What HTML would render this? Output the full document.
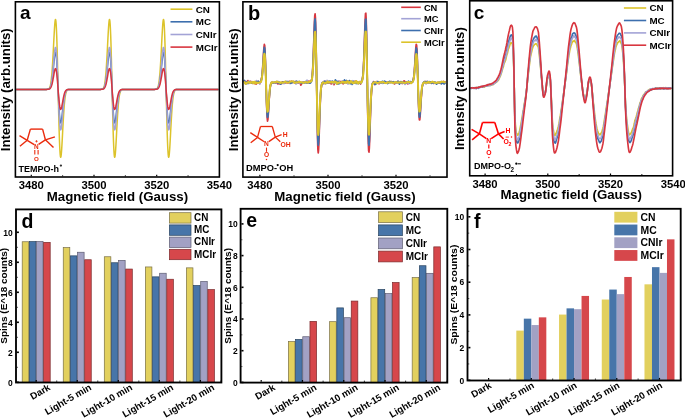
<!DOCTYPE html>
<html><head><meta charset="utf-8"><style>
html,body{margin:0;padding:0;background:#fff;}
svg{display:block;font-family:"Liberation Sans", sans-serif;will-change:transform;}
</style></head><body>
<svg width="685" height="418" viewBox="0 0 685 418">
<rect width="685" height="418" fill="#fff"/>
<path d="M16.2 89.4 L16.45 89.4 L16.7 89.4 L16.95 89.4 L17.2 89.4 L17.45 89.4 L17.7 89.4 L17.95 89.4 L18.2 89.4 L18.45 89.4 L18.7 89.4 L18.95 89.4 L19.2 89.4 L19.45 89.4 L19.7 89.4 L19.95 89.4 L20.2 89.4 L20.45 89.4 L20.7 89.4 L20.95 89.4 L21.2 89.4 L21.45 89.4 L21.7 89.4 L21.95 89.4 L22.2 89.4 L22.45 89.4 L22.7 89.4 L22.95 89.4 L23.2 89.4 L23.45 89.4 L23.7 89.4 L23.95 89.4 L24.2 89.4 L24.45 89.4 L24.7 89.4 L24.95 89.4 L25.2 89.4 L25.45 89.4 L25.7 89.4 L25.95 89.4 L26.2 89.4 L26.45 89.4 L26.7 89.4 L26.95 89.4 L27.2 89.4 L27.45 89.4 L27.7 89.4 L27.95 89.4 L28.2 89.4 L28.45 89.4 L28.7 89.4 L28.95 89.4 L29.2 89.4 L29.45 89.4 L29.7 89.4 L29.95 89.4 L30.2 89.4 L30.45 89.4 L30.7 89.4 L30.95 89.4 L31.2 89.4 L31.45 89.4 L31.7 89.4 L31.95 89.4 L32.2 89.4 L32.45 89.4 L32.7 89.4 L32.95 89.4 L33.2 89.4 L33.45 89.4 L33.7 89.4 L33.95 89.4 L34.2 89.4 L34.45 89.4 L34.7 89.4 L34.95 89.4 L35.2 89.4 L35.45 89.4 L35.7 89.4 L35.95 89.4 L36.2 89.4 L36.45 89.4 L36.7 89.4 L36.95 89.4 L37.2 89.4 L37.45 89.4 L37.7 89.4 L37.95 89.4 L38.2 89.4 L38.45 89.4 L38.7 89.4 L38.95 89.4 L39.2 89.4 L39.45 89.4 L39.7 89.4 L39.95 89.4 L40.2 89.4 L40.45 89.4 L40.7 89.4 L40.95 89.4 L41.2 89.4 L41.45 89.4 L41.7 89.4 L41.95 89.4 L42.2 89.4 L42.45 89.4 L42.7 89.4 L42.95 89.4 L43.2 89.4 L43.45 89.4 L43.7 89.4 L43.95 89.4 L44.2 89.4 L44.45 89.4 L44.7 89.4 L44.95 89.4 L45.2 89.4 L45.45 89.4 L45.7 89.39 L45.95 89.39 L46.2 89.39 L46.45 89.38 L46.7 89.37 L46.95 89.35 L47.2 89.33 L47.45 89.29 L47.7 89.25 L47.95 89.18 L48.2 89.09 L48.45 88.96 L48.7 88.79 L48.95 88.57 L49.2 88.27 L49.45 87.88 L49.7 87.38 L49.95 86.74 L50.2 85.93 L50.45 84.92 L50.7 83.68 L50.95 82.17 L51.2 80.35 L51.45 78.19 L51.7 75.67 L51.95 72.76 L52.2 69.45 L52.45 65.75 L52.7 61.67 L52.95 57.25 L53.2 52.57 L53.45 47.7 L53.7 42.75 L53.95 37.87 L54.2 33.2 L54.45 28.92 L54.7 25.22 L54.95 22.28 L55.2 20.29 L55.45 19.43 L55.7 19.82 L55.95 21.6 L56.2 24.83 L56.45 29.52 L56.7 35.64 L56.95 43.11 L57.2 51.77 L57.45 61.44 L57.7 71.85 L57.95 82.75 L58.2 93.7 L58.45 104.33 L58.7 114.56 L58.95 124.09 L59.2 132.71 L59.45 140.2 L59.7 146.41 L59.95 151.24 L60.2 154.65 L60.45 156.65 L60.7 157.3 L60.95 156.69 L61.2 154.97 L61.45 152.29 L61.7 148.83 L61.95 144.78 L62.2 140.32 L62.45 135.61 L62.7 130.81 L62.95 126.06 L63.2 121.47 L63.45 117.13 L63.7 113.11 L63.95 109.44 L64.2 106.15 L64.45 103.25 L64.7 100.73 L64.95 98.57 L65.2 96.75 L65.45 95.22 L65.7 93.97 L65.95 92.94 L66.2 92.12 L66.45 91.47 L66.7 90.96 L66.95 90.56 L67.2 90.26 L67.45 90.03 L67.7 89.85 L67.95 89.72 L68.2 89.63 L68.45 89.56 L68.7 89.51 L68.95 89.48 L69.2 89.45 L69.45 89.44 L69.7 89.42 L69.95 89.42 L70.2 89.41 L70.45 89.41 L70.7 89.4 L70.95 89.4 L71.2 89.4 L71.45 89.4 L71.7 89.4 L71.95 89.4 L72.2 89.4 L72.45 89.4 L72.7 89.4 L72.95 89.4 L73.2 89.4 L73.45 89.4 L73.7 89.4 L73.95 89.4 L74.2 89.4 L74.45 89.4 L74.7 89.4 L74.95 89.4 L75.2 89.4 L75.45 89.4 L75.7 89.4 L75.95 89.4 L76.2 89.4 L76.45 89.4 L76.7 89.4 L76.95 89.4 L77.2 89.4 L77.45 89.4 L77.7 89.4 L77.95 89.4 L78.2 89.4 L78.45 89.4 L78.7 89.4 L78.95 89.4 L79.2 89.4 L79.45 89.4 L79.7 89.4 L79.95 89.4 L80.2 89.4 L80.45 89.4 L80.7 89.4 L80.95 89.4 L81.2 89.4 L81.45 89.4 L81.7 89.4 L81.95 89.4 L82.2 89.4 L82.45 89.4 L82.7 89.4 L82.95 89.4 L83.2 89.4 L83.45 89.4 L83.7 89.4 L83.95 89.4 L84.2 89.4 L84.45 89.4 L84.7 89.4 L84.95 89.4 L85.2 89.4 L85.45 89.4 L85.7 89.4 L85.95 89.4 L86.2 89.4 L86.45 89.4 L86.7 89.4 L86.95 89.4 L87.2 89.4 L87.45 89.4 L87.7 89.4 L87.95 89.4 L88.2 89.4 L88.45 89.4 L88.7 89.4 L88.95 89.4 L89.2 89.4 L89.45 89.4 L89.7 89.4 L89.95 89.4 L90.2 89.4 L90.45 89.4 L90.7 89.4 L90.95 89.4 L91.2 89.4 L91.45 89.4 L91.7 89.4 L91.95 89.4 L92.2 89.4 L92.45 89.4 L92.7 89.4 L92.95 89.4 L93.2 89.4 L93.45 89.4 L93.7 89.4 L93.95 89.4 L94.2 89.4 L94.45 89.4 L94.7 89.4 L94.95 89.4 L95.2 89.4 L95.45 89.4 L95.7 89.4 L95.95 89.4 L96.2 89.4 L96.45 89.4 L96.7 89.4 L96.95 89.4 L97.2 89.4 L97.45 89.4 L97.7 89.4 L97.95 89.4 L98.2 89.4 L98.45 89.4 L98.7 89.4 L98.95 89.4 L99.2 89.4 L99.45 89.4 L99.7 89.39 L99.95 89.39 L100.2 89.39 L100.45 89.38 L100.7 89.37 L100.95 89.35 L101.2 89.33 L101.45 89.29 L101.7 89.25 L101.95 89.18 L102.2 89.09 L102.45 88.96 L102.7 88.79 L102.95 88.57 L103.2 88.27 L103.45 87.88 L103.7 87.38 L103.95 86.74 L104.2 85.93 L104.45 84.92 L104.7 83.68 L104.95 82.17 L105.2 80.35 L105.45 78.19 L105.7 75.67 L105.95 72.76 L106.2 69.45 L106.45 65.75 L106.7 61.67 L106.95 57.25 L107.2 52.57 L107.45 47.7 L107.7 42.75 L107.95 37.87 L108.2 33.2 L108.45 28.92 L108.7 25.22 L108.95 22.28 L109.2 20.29 L109.45 19.43 L109.7 19.82 L109.95 21.6 L110.2 24.83 L110.45 29.52 L110.7 35.64 L110.95 43.11 L111.2 51.77 L111.45 61.44 L111.7 71.85 L111.95 82.75 L112.2 93.7 L112.45 104.33 L112.7 114.56 L112.95 124.09 L113.2 132.71 L113.45 140.2 L113.7 146.41 L113.95 151.24 L114.2 154.65 L114.45 156.65 L114.7 157.3 L114.95 156.69 L115.2 154.97 L115.45 152.29 L115.7 148.83 L115.95 144.78 L116.2 140.32 L116.45 135.61 L116.7 130.81 L116.95 126.06 L117.2 121.47 L117.45 117.13 L117.7 113.11 L117.95 109.44 L118.2 106.15 L118.45 103.25 L118.7 100.73 L118.95 98.57 L119.2 96.75 L119.45 95.22 L119.7 93.97 L119.95 92.94 L120.2 92.12 L120.45 91.47 L120.7 90.96 L120.95 90.56 L121.2 90.26 L121.45 90.03 L121.7 89.85 L121.95 89.72 L122.2 89.63 L122.45 89.56 L122.7 89.51 L122.95 89.48 L123.2 89.45 L123.45 89.44 L123.7 89.42 L123.95 89.42 L124.2 89.41 L124.45 89.41 L124.7 89.4 L124.95 89.4 L125.2 89.4 L125.45 89.4 L125.7 89.4 L125.95 89.4 L126.2 89.4 L126.45 89.4 L126.7 89.4 L126.95 89.4 L127.2 89.4 L127.45 89.4 L127.7 89.4 L127.95 89.4 L128.2 89.4 L128.45 89.4 L128.7 89.4 L128.95 89.4 L129.2 89.4 L129.45 89.4 L129.7 89.4 L129.95 89.4 L130.2 89.4 L130.45 89.4 L130.7 89.4 L130.95 89.4 L131.2 89.4 L131.45 89.4 L131.7 89.4 L131.95 89.4 L132.2 89.4 L132.45 89.4 L132.7 89.4 L132.95 89.4 L133.2 89.4 L133.45 89.4 L133.7 89.4 L133.95 89.4 L134.2 89.4 L134.45 89.4 L134.7 89.4 L134.95 89.4 L135.2 89.4 L135.45 89.4 L135.7 89.4 L135.95 89.4 L136.2 89.4 L136.45 89.4 L136.7 89.4 L136.95 89.4 L137.2 89.4 L137.45 89.4 L137.7 89.4 L137.95 89.4 L138.2 89.4 L138.45 89.4 L138.7 89.4 L138.95 89.4 L139.2 89.4 L139.45 89.4 L139.7 89.4 L139.95 89.4 L140.2 89.4 L140.45 89.4 L140.7 89.4 L140.95 89.4 L141.2 89.4 L141.45 89.4 L141.7 89.4 L141.95 89.4 L142.2 89.4 L142.45 89.4 L142.7 89.4 L142.95 89.4 L143.2 89.4 L143.45 89.4 L143.7 89.4 L143.95 89.4 L144.2 89.4 L144.45 89.4 L144.7 89.4 L144.95 89.4 L145.2 89.4 L145.45 89.4 L145.7 89.4 L145.95 89.4 L146.2 89.4 L146.45 89.4 L146.7 89.4 L146.95 89.4 L147.2 89.4 L147.45 89.4 L147.7 89.4 L147.95 89.4 L148.2 89.4 L148.45 89.4 L148.7 89.4 L148.95 89.4 L149.2 89.4 L149.45 89.4 L149.7 89.4 L149.95 89.4 L150.2 89.4 L150.45 89.4 L150.7 89.4 L150.95 89.4 L151.2 89.4 L151.45 89.4 L151.7 89.4 L151.95 89.4 L152.2 89.4 L152.45 89.4 L152.7 89.4 L152.95 89.4 L153.2 89.4 L153.45 89.4 L153.7 89.39 L153.95 89.39 L154.2 89.39 L154.45 89.38 L154.7 89.37 L154.95 89.35 L155.2 89.33 L155.45 89.29 L155.7 89.25 L155.95 89.18 L156.2 89.09 L156.45 88.96 L156.7 88.79 L156.95 88.57 L157.2 88.27 L157.45 87.88 L157.7 87.38 L157.95 86.74 L158.2 85.93 L158.45 84.92 L158.7 83.68 L158.95 82.17 L159.2 80.35 L159.45 78.19 L159.7 75.67 L159.95 72.76 L160.2 69.45 L160.45 65.75 L160.7 61.67 L160.95 57.25 L161.2 52.57 L161.45 47.7 L161.7 42.75 L161.95 37.87 L162.2 33.2 L162.45 28.92 L162.7 25.22 L162.95 22.28 L163.2 20.29 L163.45 19.43 L163.7 19.82 L163.95 21.6 L164.2 24.83 L164.45 29.52 L164.7 35.64 L164.95 43.11 L165.2 51.77 L165.45 61.44 L165.7 71.85 L165.95 82.75 L166.2 93.7 L166.45 104.33 L166.7 114.56 L166.95 124.09 L167.2 132.71 L167.45 140.2 L167.7 146.41 L167.95 151.24 L168.2 154.65 L168.45 156.65 L168.7 157.3 L168.95 156.69 L169.2 154.97 L169.45 152.29 L169.7 148.83 L169.95 144.78 L170.2 140.32 L170.45 135.61 L170.7 130.81 L170.95 126.06 L171.2 121.47 L171.45 117.13 L171.7 113.11 L171.95 109.44 L172.2 106.15 L172.45 103.25 L172.7 100.73 L172.95 98.57 L173.2 96.75 L173.45 95.22 L173.7 93.97 L173.95 92.94 L174.2 92.12 L174.45 91.47 L174.7 90.96 L174.95 90.56 L175.2 90.26 L175.45 90.03 L175.7 89.85 L175.95 89.72 L176.2 89.63 L176.45 89.56 L176.7 89.51 L176.95 89.48 L177.2 89.45 L177.45 89.44 L177.7 89.42 L177.95 89.42 L178.2 89.41 L178.45 89.41 L178.7 89.4 L178.95 89.4 L179.2 89.4 L179.45 89.4 L179.7 89.4 L179.95 89.4 L180.2 89.4 L180.45 89.4 L180.7 89.4 L180.95 89.4 L181.2 89.4 L181.45 89.4 L181.7 89.4 L181.95 89.4 L182.2 89.4 L182.45 89.4 L182.7 89.4 L182.95 89.4 L183.2 89.4 L183.45 89.4 L183.7 89.4 L183.95 89.4 L184.2 89.4 L184.45 89.4 L184.7 89.4 L184.95 89.4 L185.2 89.4 L185.45 89.4 L185.7 89.4 L185.95 89.4 L186.2 89.4 L186.45 89.4 L186.7 89.4 L186.95 89.4 L187.2 89.4 L187.45 89.4 L187.7 89.4 L187.95 89.4 L188.2 89.4 L188.45 89.4 L188.7 89.4 L188.95 89.4 L189.2 89.4 L189.45 89.4 L189.7 89.4 L189.95 89.4 L190.2 89.4 L190.45 89.4 L190.7 89.4 L190.95 89.4 L191.2 89.4 L191.45 89.4 L191.7 89.4 L191.95 89.4 L192.2 89.4 L192.45 89.4 L192.7 89.4 L192.95 89.4 L193.2 89.4 L193.45 89.4 L193.7 89.4 L193.95 89.4 L194.2 89.4 L194.45 89.4 L194.7 89.4 L194.95 89.4 L195.2 89.4 L195.45 89.4 L195.7 89.4 L195.95 89.4 L196.2 89.4 L196.45 89.4 L196.7 89.4 L196.95 89.4 L197.2 89.4 L197.45 89.4 L197.7 89.4 L197.95 89.4 L198.2 89.4 L198.45 89.4 L198.7 89.4 L198.95 89.4 L199.2 89.4 L199.45 89.4 L199.7 89.4 L199.95 89.4 L200.2 89.4 L200.45 89.4 L200.7 89.4 L200.95 89.4 L201.2 89.4 L201.45 89.4 L201.7 89.4 L201.95 89.4 L202.2 89.4 L202.45 89.4 L202.7 89.4 L202.95 89.4 L203.2 89.4 L203.45 89.4 L203.7 89.4 L203.95 89.4 L204.2 89.4 L204.45 89.4 L204.7 89.4 L204.95 89.4 L205.2 89.4 L205.45 89.4 L205.7 89.4 L205.95 89.4 L206.2 89.4 L206.45 89.4 L206.7 89.4 L206.95 89.4 L207.2 89.4 L207.45 89.4 L207.7 89.4 L207.95 89.4 L208.2 89.4 L208.45 89.4 L208.7 89.4 L208.95 89.4 L209.2 89.4 L209.45 89.4 L209.7 89.4 L209.95 89.4 L210.2 89.4 L210.45 89.4 L210.7 89.4 L210.95 89.4 L211.2 89.4 L211.45 89.4 L211.7 89.4 L211.95 89.4 L212.2 89.4 L212.45 89.4 L212.7 89.4 L212.95 89.4 L213.2 89.4 L213.45 89.4 L213.7 89.4 L213.95 89.4 L214.2 89.4 L214.45 89.4 L214.7 89.4 L214.95 89.4 L215.2 89.4 L215.45 89.4 L215.7 89.4 L215.95 89.4 L216.2 89.4 L216.45 89.4 L216.7 89.4 L216.95 89.4 L217.2 89.4 L217.45 89.4 L217.7 89.4 L217.95 89.4 L218.2 89.4 L218.45 89.4" fill="none" stroke="#dcc32a" stroke-width="1.5" stroke-linejoin="round"/>
<path d="M16.2 89.4 L16.45 89.4 L16.7 89.4 L16.95 89.4 L17.2 89.4 L17.45 89.4 L17.7 89.4 L17.95 89.4 L18.2 89.4 L18.45 89.4 L18.7 89.4 L18.95 89.4 L19.2 89.4 L19.45 89.4 L19.7 89.4 L19.95 89.4 L20.2 89.4 L20.45 89.4 L20.7 89.4 L20.95 89.4 L21.2 89.4 L21.45 89.4 L21.7 89.4 L21.95 89.4 L22.2 89.4 L22.45 89.4 L22.7 89.4 L22.95 89.4 L23.2 89.4 L23.45 89.4 L23.7 89.4 L23.95 89.4 L24.2 89.4 L24.45 89.4 L24.7 89.4 L24.95 89.4 L25.2 89.4 L25.45 89.4 L25.7 89.4 L25.95 89.4 L26.2 89.4 L26.45 89.4 L26.7 89.4 L26.95 89.4 L27.2 89.4 L27.45 89.4 L27.7 89.4 L27.95 89.4 L28.2 89.4 L28.45 89.4 L28.7 89.4 L28.95 89.4 L29.2 89.4 L29.45 89.4 L29.7 89.4 L29.95 89.4 L30.2 89.4 L30.45 89.4 L30.7 89.4 L30.95 89.4 L31.2 89.4 L31.45 89.4 L31.7 89.4 L31.95 89.4 L32.2 89.4 L32.45 89.4 L32.7 89.4 L32.95 89.4 L33.2 89.4 L33.45 89.4 L33.7 89.4 L33.95 89.4 L34.2 89.4 L34.45 89.4 L34.7 89.4 L34.95 89.4 L35.2 89.4 L35.45 89.4 L35.7 89.4 L35.95 89.4 L36.2 89.4 L36.45 89.4 L36.7 89.4 L36.95 89.4 L37.2 89.4 L37.45 89.4 L37.7 89.4 L37.95 89.4 L38.2 89.4 L38.45 89.4 L38.7 89.4 L38.95 89.4 L39.2 89.4 L39.45 89.4 L39.7 89.4 L39.95 89.4 L40.2 89.4 L40.45 89.4 L40.7 89.4 L40.95 89.4 L41.2 89.4 L41.45 89.4 L41.7 89.4 L41.95 89.4 L42.2 89.4 L42.45 89.4 L42.7 89.4 L42.95 89.4 L43.2 89.4 L43.45 89.4 L43.7 89.4 L43.95 89.4 L44.2 89.4 L44.45 89.4 L44.7 89.4 L44.95 89.4 L45.2 89.4 L45.45 89.4 L45.7 89.4 L45.95 89.39 L46.2 89.39 L46.45 89.39 L46.7 89.38 L46.95 89.37 L47.2 89.36 L47.45 89.34 L47.7 89.32 L47.95 89.28 L48.2 89.23 L48.45 89.17 L48.7 89.08 L48.95 88.96 L49.2 88.8 L49.45 88.6 L49.7 88.33 L49.95 87.99 L50.2 87.57 L50.45 87.03 L50.7 86.38 L50.95 85.58 L51.2 84.62 L51.45 83.48 L51.7 82.14 L51.95 80.6 L52.2 78.85 L52.45 76.9 L52.7 74.74 L52.95 72.41 L53.2 69.93 L53.45 67.36 L53.7 64.74 L53.95 62.16 L54.2 59.69 L54.45 57.43 L54.7 55.47 L54.95 53.92 L55.2 52.87 L55.45 52.41 L55.7 52.62 L55.95 53.56 L56.2 55.27 L56.45 57.75 L56.7 60.99 L56.95 64.93 L57.2 69.51 L57.45 74.62 L57.7 80.13 L57.95 85.89 L58.2 91.52 L58.45 96.77 L58.7 101.81 L58.95 106.52 L59.2 110.77 L59.45 114.46 L59.7 117.53 L59.95 119.91 L60.2 121.59 L60.45 122.58 L60.7 122.9 L60.95 122.6 L61.2 121.75 L61.45 120.43 L61.7 118.72 L61.95 116.72 L62.2 114.52 L62.45 112.2 L62.7 109.83 L62.95 107.49 L63.2 105.22 L63.45 103.08 L63.7 101.1 L63.95 99.29 L64.2 97.67 L64.45 96.23 L64.7 94.99 L64.95 93.93 L65.2 93.02 L65.45 92.27 L65.7 91.65 L65.95 91.15 L66.2 90.74 L66.45 90.42 L66.7 90.17 L66.95 89.97 L67.2 89.82 L67.45 89.71 L67.7 89.62 L67.95 89.56 L68.2 89.51 L68.45 89.48 L68.7 89.46 L68.95 89.44 L69.2 89.43 L69.45 89.42 L69.7 89.41 L69.95 89.41 L70.2 89.41 L70.45 89.4 L70.7 89.4 L70.95 89.4 L71.2 89.4 L71.45 89.4 L71.7 89.4 L71.95 89.4 L72.2 89.4 L72.45 89.4 L72.7 89.4 L72.95 89.4 L73.2 89.4 L73.45 89.4 L73.7 89.4 L73.95 89.4 L74.2 89.4 L74.45 89.4 L74.7 89.4 L74.95 89.4 L75.2 89.4 L75.45 89.4 L75.7 89.4 L75.95 89.4 L76.2 89.4 L76.45 89.4 L76.7 89.4 L76.95 89.4 L77.2 89.4 L77.45 89.4 L77.7 89.4 L77.95 89.4 L78.2 89.4 L78.45 89.4 L78.7 89.4 L78.95 89.4 L79.2 89.4 L79.45 89.4 L79.7 89.4 L79.95 89.4 L80.2 89.4 L80.45 89.4 L80.7 89.4 L80.95 89.4 L81.2 89.4 L81.45 89.4 L81.7 89.4 L81.95 89.4 L82.2 89.4 L82.45 89.4 L82.7 89.4 L82.95 89.4 L83.2 89.4 L83.45 89.4 L83.7 89.4 L83.95 89.4 L84.2 89.4 L84.45 89.4 L84.7 89.4 L84.95 89.4 L85.2 89.4 L85.45 89.4 L85.7 89.4 L85.95 89.4 L86.2 89.4 L86.45 89.4 L86.7 89.4 L86.95 89.4 L87.2 89.4 L87.45 89.4 L87.7 89.4 L87.95 89.4 L88.2 89.4 L88.45 89.4 L88.7 89.4 L88.95 89.4 L89.2 89.4 L89.45 89.4 L89.7 89.4 L89.95 89.4 L90.2 89.4 L90.45 89.4 L90.7 89.4 L90.95 89.4 L91.2 89.4 L91.45 89.4 L91.7 89.4 L91.95 89.4 L92.2 89.4 L92.45 89.4 L92.7 89.4 L92.95 89.4 L93.2 89.4 L93.45 89.4 L93.7 89.4 L93.95 89.4 L94.2 89.4 L94.45 89.4 L94.7 89.4 L94.95 89.4 L95.2 89.4 L95.45 89.4 L95.7 89.4 L95.95 89.4 L96.2 89.4 L96.45 89.4 L96.7 89.4 L96.95 89.4 L97.2 89.4 L97.45 89.4 L97.7 89.4 L97.95 89.4 L98.2 89.4 L98.45 89.4 L98.7 89.4 L98.95 89.4 L99.2 89.4 L99.45 89.4 L99.7 89.4 L99.95 89.39 L100.2 89.39 L100.45 89.39 L100.7 89.38 L100.95 89.37 L101.2 89.36 L101.45 89.34 L101.7 89.32 L101.95 89.28 L102.2 89.23 L102.45 89.17 L102.7 89.08 L102.95 88.96 L103.2 88.8 L103.45 88.6 L103.7 88.33 L103.95 87.99 L104.2 87.57 L104.45 87.03 L104.7 86.38 L104.95 85.58 L105.2 84.62 L105.45 83.48 L105.7 82.14 L105.95 80.6 L106.2 78.85 L106.45 76.9 L106.7 74.74 L106.95 72.41 L107.2 69.93 L107.45 67.36 L107.7 64.74 L107.95 62.16 L108.2 59.69 L108.45 57.43 L108.7 55.47 L108.95 53.92 L109.2 52.87 L109.45 52.41 L109.7 52.62 L109.95 53.56 L110.2 55.27 L110.45 57.75 L110.7 60.99 L110.95 64.93 L111.2 69.51 L111.45 74.62 L111.7 80.13 L111.95 85.89 L112.2 91.52 L112.45 96.77 L112.7 101.81 L112.95 106.52 L113.2 110.77 L113.45 114.46 L113.7 117.53 L113.95 119.91 L114.2 121.59 L114.45 122.58 L114.7 122.9 L114.95 122.6 L115.2 121.75 L115.45 120.43 L115.7 118.72 L115.95 116.72 L116.2 114.52 L116.45 112.2 L116.7 109.83 L116.95 107.49 L117.2 105.22 L117.45 103.08 L117.7 101.1 L117.95 99.29 L118.2 97.67 L118.45 96.23 L118.7 94.99 L118.95 93.93 L119.2 93.02 L119.45 92.27 L119.7 91.65 L119.95 91.15 L120.2 90.74 L120.45 90.42 L120.7 90.17 L120.95 89.97 L121.2 89.82 L121.45 89.71 L121.7 89.62 L121.95 89.56 L122.2 89.51 L122.45 89.48 L122.7 89.46 L122.95 89.44 L123.2 89.43 L123.45 89.42 L123.7 89.41 L123.95 89.41 L124.2 89.41 L124.45 89.4 L124.7 89.4 L124.95 89.4 L125.2 89.4 L125.45 89.4 L125.7 89.4 L125.95 89.4 L126.2 89.4 L126.45 89.4 L126.7 89.4 L126.95 89.4 L127.2 89.4 L127.45 89.4 L127.7 89.4 L127.95 89.4 L128.2 89.4 L128.45 89.4 L128.7 89.4 L128.95 89.4 L129.2 89.4 L129.45 89.4 L129.7 89.4 L129.95 89.4 L130.2 89.4 L130.45 89.4 L130.7 89.4 L130.95 89.4 L131.2 89.4 L131.45 89.4 L131.7 89.4 L131.95 89.4 L132.2 89.4 L132.45 89.4 L132.7 89.4 L132.95 89.4 L133.2 89.4 L133.45 89.4 L133.7 89.4 L133.95 89.4 L134.2 89.4 L134.45 89.4 L134.7 89.4 L134.95 89.4 L135.2 89.4 L135.45 89.4 L135.7 89.4 L135.95 89.4 L136.2 89.4 L136.45 89.4 L136.7 89.4 L136.95 89.4 L137.2 89.4 L137.45 89.4 L137.7 89.4 L137.95 89.4 L138.2 89.4 L138.45 89.4 L138.7 89.4 L138.95 89.4 L139.2 89.4 L139.45 89.4 L139.7 89.4 L139.95 89.4 L140.2 89.4 L140.45 89.4 L140.7 89.4 L140.95 89.4 L141.2 89.4 L141.45 89.4 L141.7 89.4 L141.95 89.4 L142.2 89.4 L142.45 89.4 L142.7 89.4 L142.95 89.4 L143.2 89.4 L143.45 89.4 L143.7 89.4 L143.95 89.4 L144.2 89.4 L144.45 89.4 L144.7 89.4 L144.95 89.4 L145.2 89.4 L145.45 89.4 L145.7 89.4 L145.95 89.4 L146.2 89.4 L146.45 89.4 L146.7 89.4 L146.95 89.4 L147.2 89.4 L147.45 89.4 L147.7 89.4 L147.95 89.4 L148.2 89.4 L148.45 89.4 L148.7 89.4 L148.95 89.4 L149.2 89.4 L149.45 89.4 L149.7 89.4 L149.95 89.4 L150.2 89.4 L150.45 89.4 L150.7 89.4 L150.95 89.4 L151.2 89.4 L151.45 89.4 L151.7 89.4 L151.95 89.4 L152.2 89.4 L152.45 89.4 L152.7 89.4 L152.95 89.4 L153.2 89.4 L153.45 89.4 L153.7 89.4 L153.95 89.39 L154.2 89.39 L154.45 89.39 L154.7 89.38 L154.95 89.37 L155.2 89.36 L155.45 89.34 L155.7 89.32 L155.95 89.28 L156.2 89.23 L156.45 89.17 L156.7 89.08 L156.95 88.96 L157.2 88.8 L157.45 88.6 L157.7 88.33 L157.95 87.99 L158.2 87.57 L158.45 87.03 L158.7 86.38 L158.95 85.58 L159.2 84.62 L159.45 83.48 L159.7 82.14 L159.95 80.6 L160.2 78.85 L160.45 76.9 L160.7 74.74 L160.95 72.41 L161.2 69.93 L161.45 67.36 L161.7 64.74 L161.95 62.16 L162.2 59.69 L162.45 57.43 L162.7 55.47 L162.95 53.92 L163.2 52.87 L163.45 52.41 L163.7 52.62 L163.95 53.56 L164.2 55.27 L164.45 57.75 L164.7 60.99 L164.95 64.93 L165.2 69.51 L165.45 74.62 L165.7 80.13 L165.95 85.89 L166.2 91.52 L166.45 96.77 L166.7 101.81 L166.95 106.52 L167.2 110.77 L167.45 114.46 L167.7 117.53 L167.95 119.91 L168.2 121.59 L168.45 122.58 L168.7 122.9 L168.95 122.6 L169.2 121.75 L169.45 120.43 L169.7 118.72 L169.95 116.72 L170.2 114.52 L170.45 112.2 L170.7 109.83 L170.95 107.49 L171.2 105.22 L171.45 103.08 L171.7 101.1 L171.95 99.29 L172.2 97.67 L172.45 96.23 L172.7 94.99 L172.95 93.93 L173.2 93.02 L173.45 92.27 L173.7 91.65 L173.95 91.15 L174.2 90.74 L174.45 90.42 L174.7 90.17 L174.95 89.97 L175.2 89.82 L175.45 89.71 L175.7 89.62 L175.95 89.56 L176.2 89.51 L176.45 89.48 L176.7 89.46 L176.95 89.44 L177.2 89.43 L177.45 89.42 L177.7 89.41 L177.95 89.41 L178.2 89.41 L178.45 89.4 L178.7 89.4 L178.95 89.4 L179.2 89.4 L179.45 89.4 L179.7 89.4 L179.95 89.4 L180.2 89.4 L180.45 89.4 L180.7 89.4 L180.95 89.4 L181.2 89.4 L181.45 89.4 L181.7 89.4 L181.95 89.4 L182.2 89.4 L182.45 89.4 L182.7 89.4 L182.95 89.4 L183.2 89.4 L183.45 89.4 L183.7 89.4 L183.95 89.4 L184.2 89.4 L184.45 89.4 L184.7 89.4 L184.95 89.4 L185.2 89.4 L185.45 89.4 L185.7 89.4 L185.95 89.4 L186.2 89.4 L186.45 89.4 L186.7 89.4 L186.95 89.4 L187.2 89.4 L187.45 89.4 L187.7 89.4 L187.95 89.4 L188.2 89.4 L188.45 89.4 L188.7 89.4 L188.95 89.4 L189.2 89.4 L189.45 89.4 L189.7 89.4 L189.95 89.4 L190.2 89.4 L190.45 89.4 L190.7 89.4 L190.95 89.4 L191.2 89.4 L191.45 89.4 L191.7 89.4 L191.95 89.4 L192.2 89.4 L192.45 89.4 L192.7 89.4 L192.95 89.4 L193.2 89.4 L193.45 89.4 L193.7 89.4 L193.95 89.4 L194.2 89.4 L194.45 89.4 L194.7 89.4 L194.95 89.4 L195.2 89.4 L195.45 89.4 L195.7 89.4 L195.95 89.4 L196.2 89.4 L196.45 89.4 L196.7 89.4 L196.95 89.4 L197.2 89.4 L197.45 89.4 L197.7 89.4 L197.95 89.4 L198.2 89.4 L198.45 89.4 L198.7 89.4 L198.95 89.4 L199.2 89.4 L199.45 89.4 L199.7 89.4 L199.95 89.4 L200.2 89.4 L200.45 89.4 L200.7 89.4 L200.95 89.4 L201.2 89.4 L201.45 89.4 L201.7 89.4 L201.95 89.4 L202.2 89.4 L202.45 89.4 L202.7 89.4 L202.95 89.4 L203.2 89.4 L203.45 89.4 L203.7 89.4 L203.95 89.4 L204.2 89.4 L204.45 89.4 L204.7 89.4 L204.95 89.4 L205.2 89.4 L205.45 89.4 L205.7 89.4 L205.95 89.4 L206.2 89.4 L206.45 89.4 L206.7 89.4 L206.95 89.4 L207.2 89.4 L207.45 89.4 L207.7 89.4 L207.95 89.4 L208.2 89.4 L208.45 89.4 L208.7 89.4 L208.95 89.4 L209.2 89.4 L209.45 89.4 L209.7 89.4 L209.95 89.4 L210.2 89.4 L210.45 89.4 L210.7 89.4 L210.95 89.4 L211.2 89.4 L211.45 89.4 L211.7 89.4 L211.95 89.4 L212.2 89.4 L212.45 89.4 L212.7 89.4 L212.95 89.4 L213.2 89.4 L213.45 89.4 L213.7 89.4 L213.95 89.4 L214.2 89.4 L214.45 89.4 L214.7 89.4 L214.95 89.4 L215.2 89.4 L215.45 89.4 L215.7 89.4 L215.95 89.4 L216.2 89.4 L216.45 89.4 L216.7 89.4 L216.95 89.4 L217.2 89.4 L217.45 89.4 L217.7 89.4 L217.95 89.4 L218.2 89.4 L218.45 89.4" fill="none" stroke="#3d6fae" stroke-width="1.5" stroke-linejoin="round"/>
<path d="M16.2 89.4 L16.45 89.4 L16.7 89.4 L16.95 89.4 L17.2 89.4 L17.45 89.4 L17.7 89.4 L17.95 89.4 L18.2 89.4 L18.45 89.4 L18.7 89.4 L18.95 89.4 L19.2 89.4 L19.45 89.4 L19.7 89.4 L19.95 89.4 L20.2 89.4 L20.45 89.4 L20.7 89.4 L20.95 89.4 L21.2 89.4 L21.45 89.4 L21.7 89.4 L21.95 89.4 L22.2 89.4 L22.45 89.4 L22.7 89.4 L22.95 89.4 L23.2 89.4 L23.45 89.4 L23.7 89.4 L23.95 89.4 L24.2 89.4 L24.45 89.4 L24.7 89.4 L24.95 89.4 L25.2 89.4 L25.45 89.4 L25.7 89.4 L25.95 89.4 L26.2 89.4 L26.45 89.4 L26.7 89.4 L26.95 89.4 L27.2 89.4 L27.45 89.4 L27.7 89.4 L27.95 89.4 L28.2 89.4 L28.45 89.4 L28.7 89.4 L28.95 89.4 L29.2 89.4 L29.45 89.4 L29.7 89.4 L29.95 89.4 L30.2 89.4 L30.45 89.4 L30.7 89.4 L30.95 89.4 L31.2 89.4 L31.45 89.4 L31.7 89.4 L31.95 89.4 L32.2 89.4 L32.45 89.4 L32.7 89.4 L32.95 89.4 L33.2 89.4 L33.45 89.4 L33.7 89.4 L33.95 89.4 L34.2 89.4 L34.45 89.4 L34.7 89.4 L34.95 89.4 L35.2 89.4 L35.45 89.4 L35.7 89.4 L35.95 89.4 L36.2 89.4 L36.45 89.4 L36.7 89.4 L36.95 89.4 L37.2 89.4 L37.45 89.4 L37.7 89.4 L37.95 89.4 L38.2 89.4 L38.45 89.4 L38.7 89.4 L38.95 89.4 L39.2 89.4 L39.45 89.4 L39.7 89.4 L39.95 89.4 L40.2 89.4 L40.45 89.4 L40.7 89.4 L40.95 89.4 L41.2 89.4 L41.45 89.4 L41.7 89.4 L41.95 89.4 L42.2 89.4 L42.45 89.4 L42.7 89.4 L42.95 89.4 L43.2 89.4 L43.45 89.4 L43.7 89.4 L43.95 89.4 L44.2 89.4 L44.45 89.4 L44.7 89.4 L44.95 89.4 L45.2 89.4 L45.45 89.4 L45.7 89.4 L45.95 89.39 L46.2 89.39 L46.45 89.39 L46.7 89.38 L46.95 89.37 L47.2 89.36 L47.45 89.34 L47.7 89.31 L47.95 89.27 L48.2 89.21 L48.45 89.14 L48.7 89.04 L48.95 88.9 L49.2 88.72 L49.45 88.49 L49.7 88.19 L49.95 87.8 L50.2 87.32 L50.45 86.71 L50.7 85.97 L50.95 85.06 L51.2 83.97 L51.45 82.67 L51.7 81.16 L51.95 79.41 L52.2 77.43 L52.45 75.21 L52.7 72.76 L52.95 70.11 L53.2 67.3 L53.45 64.38 L53.7 61.41 L53.95 58.48 L54.2 55.68 L54.45 53.11 L54.7 50.89 L54.95 49.13 L55.2 47.94 L55.45 47.42 L55.7 47.65 L55.95 48.72 L56.2 50.66 L56.45 53.47 L56.7 57.15 L56.95 61.63 L57.2 66.82 L57.45 72.62 L57.7 78.87 L57.95 85.41 L58.2 91.97 L58.45 98.31 L58.7 104.4 L58.95 110.09 L59.2 115.23 L59.45 119.7 L59.7 123.4 L59.95 126.29 L60.2 128.32 L60.45 129.51 L60.7 129.9 L60.95 129.54 L61.2 128.51 L61.45 126.91 L61.7 124.85 L61.95 122.43 L62.2 119.77 L62.45 116.96 L62.7 114.1 L62.95 111.27 L63.2 108.53 L63.45 105.94 L63.7 103.54 L63.95 101.35 L64.2 99.39 L64.45 97.66 L64.7 96.16 L64.95 94.87 L65.2 93.78 L65.45 92.87 L65.7 92.12 L65.95 91.51 L66.2 91.02 L66.45 90.63 L66.7 90.33 L66.95 90.09 L67.2 89.91 L67.45 89.77 L67.7 89.67 L67.95 89.59 L68.2 89.54 L68.45 89.5 L68.7 89.47 L68.95 89.45 L69.2 89.43 L69.45 89.42 L69.7 89.41 L69.95 89.41 L70.2 89.41 L70.45 89.4 L70.7 89.4 L70.95 89.4 L71.2 89.4 L71.45 89.4 L71.7 89.4 L71.95 89.4 L72.2 89.4 L72.45 89.4 L72.7 89.4 L72.95 89.4 L73.2 89.4 L73.45 89.4 L73.7 89.4 L73.95 89.4 L74.2 89.4 L74.45 89.4 L74.7 89.4 L74.95 89.4 L75.2 89.4 L75.45 89.4 L75.7 89.4 L75.95 89.4 L76.2 89.4 L76.45 89.4 L76.7 89.4 L76.95 89.4 L77.2 89.4 L77.45 89.4 L77.7 89.4 L77.95 89.4 L78.2 89.4 L78.45 89.4 L78.7 89.4 L78.95 89.4 L79.2 89.4 L79.45 89.4 L79.7 89.4 L79.95 89.4 L80.2 89.4 L80.45 89.4 L80.7 89.4 L80.95 89.4 L81.2 89.4 L81.45 89.4 L81.7 89.4 L81.95 89.4 L82.2 89.4 L82.45 89.4 L82.7 89.4 L82.95 89.4 L83.2 89.4 L83.45 89.4 L83.7 89.4 L83.95 89.4 L84.2 89.4 L84.45 89.4 L84.7 89.4 L84.95 89.4 L85.2 89.4 L85.45 89.4 L85.7 89.4 L85.95 89.4 L86.2 89.4 L86.45 89.4 L86.7 89.4 L86.95 89.4 L87.2 89.4 L87.45 89.4 L87.7 89.4 L87.95 89.4 L88.2 89.4 L88.45 89.4 L88.7 89.4 L88.95 89.4 L89.2 89.4 L89.45 89.4 L89.7 89.4 L89.95 89.4 L90.2 89.4 L90.45 89.4 L90.7 89.4 L90.95 89.4 L91.2 89.4 L91.45 89.4 L91.7 89.4 L91.95 89.4 L92.2 89.4 L92.45 89.4 L92.7 89.4 L92.95 89.4 L93.2 89.4 L93.45 89.4 L93.7 89.4 L93.95 89.4 L94.2 89.4 L94.45 89.4 L94.7 89.4 L94.95 89.4 L95.2 89.4 L95.45 89.4 L95.7 89.4 L95.95 89.4 L96.2 89.4 L96.45 89.4 L96.7 89.4 L96.95 89.4 L97.2 89.4 L97.45 89.4 L97.7 89.4 L97.95 89.4 L98.2 89.4 L98.45 89.4 L98.7 89.4 L98.95 89.4 L99.2 89.4 L99.45 89.4 L99.7 89.4 L99.95 89.39 L100.2 89.39 L100.45 89.39 L100.7 89.38 L100.95 89.37 L101.2 89.36 L101.45 89.34 L101.7 89.31 L101.95 89.27 L102.2 89.21 L102.45 89.14 L102.7 89.04 L102.95 88.9 L103.2 88.72 L103.45 88.49 L103.7 88.19 L103.95 87.8 L104.2 87.32 L104.45 86.71 L104.7 85.97 L104.95 85.06 L105.2 83.97 L105.45 82.67 L105.7 81.16 L105.95 79.41 L106.2 77.43 L106.45 75.21 L106.7 72.76 L106.95 70.11 L107.2 67.3 L107.45 64.38 L107.7 61.41 L107.95 58.48 L108.2 55.68 L108.45 53.11 L108.7 50.89 L108.95 49.13 L109.2 47.94 L109.45 47.42 L109.7 47.65 L109.95 48.72 L110.2 50.66 L110.45 53.47 L110.7 57.15 L110.95 61.63 L111.2 66.82 L111.45 72.62 L111.7 78.87 L111.95 85.41 L112.2 91.97 L112.45 98.31 L112.7 104.4 L112.95 110.09 L113.2 115.23 L113.45 119.7 L113.7 123.4 L113.95 126.29 L114.2 128.32 L114.45 129.51 L114.7 129.9 L114.95 129.54 L115.2 128.51 L115.45 126.91 L115.7 124.85 L115.95 122.43 L116.2 119.77 L116.45 116.96 L116.7 114.1 L116.95 111.27 L117.2 108.53 L117.45 105.94 L117.7 103.54 L117.95 101.35 L118.2 99.39 L118.45 97.66 L118.7 96.16 L118.95 94.87 L119.2 93.78 L119.45 92.87 L119.7 92.12 L119.95 91.51 L120.2 91.02 L120.45 90.63 L120.7 90.33 L120.95 90.09 L121.2 89.91 L121.45 89.77 L121.7 89.67 L121.95 89.59 L122.2 89.54 L122.45 89.5 L122.7 89.47 L122.95 89.45 L123.2 89.43 L123.45 89.42 L123.7 89.41 L123.95 89.41 L124.2 89.41 L124.45 89.4 L124.7 89.4 L124.95 89.4 L125.2 89.4 L125.45 89.4 L125.7 89.4 L125.95 89.4 L126.2 89.4 L126.45 89.4 L126.7 89.4 L126.95 89.4 L127.2 89.4 L127.45 89.4 L127.7 89.4 L127.95 89.4 L128.2 89.4 L128.45 89.4 L128.7 89.4 L128.95 89.4 L129.2 89.4 L129.45 89.4 L129.7 89.4 L129.95 89.4 L130.2 89.4 L130.45 89.4 L130.7 89.4 L130.95 89.4 L131.2 89.4 L131.45 89.4 L131.7 89.4 L131.95 89.4 L132.2 89.4 L132.45 89.4 L132.7 89.4 L132.95 89.4 L133.2 89.4 L133.45 89.4 L133.7 89.4 L133.95 89.4 L134.2 89.4 L134.45 89.4 L134.7 89.4 L134.95 89.4 L135.2 89.4 L135.45 89.4 L135.7 89.4 L135.95 89.4 L136.2 89.4 L136.45 89.4 L136.7 89.4 L136.95 89.4 L137.2 89.4 L137.45 89.4 L137.7 89.4 L137.95 89.4 L138.2 89.4 L138.45 89.4 L138.7 89.4 L138.95 89.4 L139.2 89.4 L139.45 89.4 L139.7 89.4 L139.95 89.4 L140.2 89.4 L140.45 89.4 L140.7 89.4 L140.95 89.4 L141.2 89.4 L141.45 89.4 L141.7 89.4 L141.95 89.4 L142.2 89.4 L142.45 89.4 L142.7 89.4 L142.95 89.4 L143.2 89.4 L143.45 89.4 L143.7 89.4 L143.95 89.4 L144.2 89.4 L144.45 89.4 L144.7 89.4 L144.95 89.4 L145.2 89.4 L145.45 89.4 L145.7 89.4 L145.95 89.4 L146.2 89.4 L146.45 89.4 L146.7 89.4 L146.95 89.4 L147.2 89.4 L147.45 89.4 L147.7 89.4 L147.95 89.4 L148.2 89.4 L148.45 89.4 L148.7 89.4 L148.95 89.4 L149.2 89.4 L149.45 89.4 L149.7 89.4 L149.95 89.4 L150.2 89.4 L150.45 89.4 L150.7 89.4 L150.95 89.4 L151.2 89.4 L151.45 89.4 L151.7 89.4 L151.95 89.4 L152.2 89.4 L152.45 89.4 L152.7 89.4 L152.95 89.4 L153.2 89.4 L153.45 89.4 L153.7 89.4 L153.95 89.39 L154.2 89.39 L154.45 89.39 L154.7 89.38 L154.95 89.37 L155.2 89.36 L155.45 89.34 L155.7 89.31 L155.95 89.27 L156.2 89.21 L156.45 89.14 L156.7 89.04 L156.95 88.9 L157.2 88.72 L157.45 88.49 L157.7 88.19 L157.95 87.8 L158.2 87.32 L158.45 86.71 L158.7 85.97 L158.95 85.06 L159.2 83.97 L159.45 82.67 L159.7 81.16 L159.95 79.41 L160.2 77.43 L160.45 75.21 L160.7 72.76 L160.95 70.11 L161.2 67.3 L161.45 64.38 L161.7 61.41 L161.95 58.48 L162.2 55.68 L162.45 53.11 L162.7 50.89 L162.95 49.13 L163.2 47.94 L163.45 47.42 L163.7 47.65 L163.95 48.72 L164.2 50.66 L164.45 53.47 L164.7 57.15 L164.95 61.63 L165.2 66.82 L165.45 72.62 L165.7 78.87 L165.95 85.41 L166.2 91.97 L166.45 98.31 L166.7 104.4 L166.95 110.09 L167.2 115.23 L167.45 119.7 L167.7 123.4 L167.95 126.29 L168.2 128.32 L168.45 129.51 L168.7 129.9 L168.95 129.54 L169.2 128.51 L169.45 126.91 L169.7 124.85 L169.95 122.43 L170.2 119.77 L170.45 116.96 L170.7 114.1 L170.95 111.27 L171.2 108.53 L171.45 105.94 L171.7 103.54 L171.95 101.35 L172.2 99.39 L172.45 97.66 L172.7 96.16 L172.95 94.87 L173.2 93.78 L173.45 92.87 L173.7 92.12 L173.95 91.51 L174.2 91.02 L174.45 90.63 L174.7 90.33 L174.95 90.09 L175.2 89.91 L175.45 89.77 L175.7 89.67 L175.95 89.59 L176.2 89.54 L176.45 89.5 L176.7 89.47 L176.95 89.45 L177.2 89.43 L177.45 89.42 L177.7 89.41 L177.95 89.41 L178.2 89.41 L178.45 89.4 L178.7 89.4 L178.95 89.4 L179.2 89.4 L179.45 89.4 L179.7 89.4 L179.95 89.4 L180.2 89.4 L180.45 89.4 L180.7 89.4 L180.95 89.4 L181.2 89.4 L181.45 89.4 L181.7 89.4 L181.95 89.4 L182.2 89.4 L182.45 89.4 L182.7 89.4 L182.95 89.4 L183.2 89.4 L183.45 89.4 L183.7 89.4 L183.95 89.4 L184.2 89.4 L184.45 89.4 L184.7 89.4 L184.95 89.4 L185.2 89.4 L185.45 89.4 L185.7 89.4 L185.95 89.4 L186.2 89.4 L186.45 89.4 L186.7 89.4 L186.95 89.4 L187.2 89.4 L187.45 89.4 L187.7 89.4 L187.95 89.4 L188.2 89.4 L188.45 89.4 L188.7 89.4 L188.95 89.4 L189.2 89.4 L189.45 89.4 L189.7 89.4 L189.95 89.4 L190.2 89.4 L190.45 89.4 L190.7 89.4 L190.95 89.4 L191.2 89.4 L191.45 89.4 L191.7 89.4 L191.95 89.4 L192.2 89.4 L192.45 89.4 L192.7 89.4 L192.95 89.4 L193.2 89.4 L193.45 89.4 L193.7 89.4 L193.95 89.4 L194.2 89.4 L194.45 89.4 L194.7 89.4 L194.95 89.4 L195.2 89.4 L195.45 89.4 L195.7 89.4 L195.95 89.4 L196.2 89.4 L196.45 89.4 L196.7 89.4 L196.95 89.4 L197.2 89.4 L197.45 89.4 L197.7 89.4 L197.95 89.4 L198.2 89.4 L198.45 89.4 L198.7 89.4 L198.95 89.4 L199.2 89.4 L199.45 89.4 L199.7 89.4 L199.95 89.4 L200.2 89.4 L200.45 89.4 L200.7 89.4 L200.95 89.4 L201.2 89.4 L201.45 89.4 L201.7 89.4 L201.95 89.4 L202.2 89.4 L202.45 89.4 L202.7 89.4 L202.95 89.4 L203.2 89.4 L203.45 89.4 L203.7 89.4 L203.95 89.4 L204.2 89.4 L204.45 89.4 L204.7 89.4 L204.95 89.4 L205.2 89.4 L205.45 89.4 L205.7 89.4 L205.95 89.4 L206.2 89.4 L206.45 89.4 L206.7 89.4 L206.95 89.4 L207.2 89.4 L207.45 89.4 L207.7 89.4 L207.95 89.4 L208.2 89.4 L208.45 89.4 L208.7 89.4 L208.95 89.4 L209.2 89.4 L209.45 89.4 L209.7 89.4 L209.95 89.4 L210.2 89.4 L210.45 89.4 L210.7 89.4 L210.95 89.4 L211.2 89.4 L211.45 89.4 L211.7 89.4 L211.95 89.4 L212.2 89.4 L212.45 89.4 L212.7 89.4 L212.95 89.4 L213.2 89.4 L213.45 89.4 L213.7 89.4 L213.95 89.4 L214.2 89.4 L214.45 89.4 L214.7 89.4 L214.95 89.4 L215.2 89.4 L215.45 89.4 L215.7 89.4 L215.95 89.4 L216.2 89.4 L216.45 89.4 L216.7 89.4 L216.95 89.4 L217.2 89.4 L217.45 89.4 L217.7 89.4 L217.95 89.4 L218.2 89.4 L218.45 89.4" fill="none" stroke="#a3a3d6" stroke-width="1.5" stroke-linejoin="round"/>
<path d="M16.2 89.4 L16.45 89.4 L16.7 89.4 L16.95 89.4 L17.2 89.4 L17.45 89.4 L17.7 89.4 L17.95 89.4 L18.2 89.4 L18.45 89.4 L18.7 89.4 L18.95 89.4 L19.2 89.4 L19.45 89.4 L19.7 89.4 L19.95 89.4 L20.2 89.4 L20.45 89.4 L20.7 89.4 L20.95 89.4 L21.2 89.4 L21.45 89.4 L21.7 89.4 L21.95 89.4 L22.2 89.4 L22.45 89.4 L22.7 89.4 L22.95 89.4 L23.2 89.4 L23.45 89.4 L23.7 89.4 L23.95 89.4 L24.2 89.4 L24.45 89.4 L24.7 89.4 L24.95 89.4 L25.2 89.4 L25.45 89.4 L25.7 89.4 L25.95 89.4 L26.2 89.4 L26.45 89.4 L26.7 89.4 L26.95 89.4 L27.2 89.4 L27.45 89.4 L27.7 89.4 L27.95 89.4 L28.2 89.4 L28.45 89.4 L28.7 89.4 L28.95 89.4 L29.2 89.4 L29.45 89.4 L29.7 89.4 L29.95 89.4 L30.2 89.4 L30.45 89.4 L30.7 89.4 L30.95 89.4 L31.2 89.4 L31.45 89.4 L31.7 89.4 L31.95 89.4 L32.2 89.4 L32.45 89.4 L32.7 89.4 L32.95 89.4 L33.2 89.4 L33.45 89.4 L33.7 89.4 L33.95 89.4 L34.2 89.4 L34.45 89.4 L34.7 89.4 L34.95 89.4 L35.2 89.4 L35.45 89.4 L35.7 89.4 L35.95 89.4 L36.2 89.4 L36.45 89.4 L36.7 89.4 L36.95 89.4 L37.2 89.4 L37.45 89.4 L37.7 89.4 L37.95 89.4 L38.2 89.4 L38.45 89.4 L38.7 89.4 L38.95 89.4 L39.2 89.4 L39.45 89.4 L39.7 89.4 L39.95 89.4 L40.2 89.4 L40.45 89.4 L40.7 89.4 L40.95 89.4 L41.2 89.4 L41.45 89.4 L41.7 89.4 L41.95 89.4 L42.2 89.4 L42.45 89.4 L42.7 89.4 L42.95 89.4 L43.2 89.4 L43.45 89.4 L43.7 89.4 L43.95 89.4 L44.2 89.4 L44.45 89.4 L44.7 89.4 L44.95 89.4 L45.2 89.4 L45.45 89.4 L45.7 89.4 L45.95 89.4 L46.2 89.4 L46.45 89.39 L46.7 89.39 L46.95 89.39 L47.2 89.38 L47.45 89.37 L47.7 89.35 L47.95 89.33 L48.2 89.31 L48.45 89.27 L48.7 89.22 L48.95 89.15 L49.2 89.06 L49.45 88.95 L49.7 88.8 L49.95 88.61 L50.2 88.37 L50.45 88.07 L50.7 87.7 L50.95 87.25 L51.2 86.71 L51.45 86.07 L51.7 85.32 L51.95 84.46 L52.2 83.47 L52.45 82.37 L52.7 81.16 L52.95 79.85 L53.2 78.46 L53.45 77.01 L53.7 75.54 L53.95 74.09 L54.2 72.7 L54.45 71.43 L54.7 70.33 L54.95 69.46 L55.2 68.87 L55.45 68.61 L55.7 68.73 L55.95 69.25 L56.2 70.21 L56.45 71.61 L56.7 73.43 L56.95 75.65 L57.2 78.22 L57.45 81.09 L57.7 84.19 L57.95 87.42 L58.2 90.67 L58.45 93.8 L58.7 96.81 L58.95 99.62 L59.2 102.16 L59.45 104.36 L59.7 106.19 L59.95 107.62 L60.2 108.62 L60.45 109.21 L60.7 109.4 L60.95 109.22 L61.2 108.71 L61.45 107.92 L61.7 106.91 L61.95 105.71 L62.2 104.4 L62.45 103.01 L62.7 101.6 L62.95 100.2 L63.2 98.85 L63.45 97.57 L63.7 96.38 L63.95 95.3 L64.2 94.33 L64.45 93.48 L64.7 92.74 L64.95 92.1 L65.2 91.56 L65.45 91.11 L65.7 90.74 L65.95 90.44 L66.2 90.2 L66.45 90.01 L66.7 89.86 L66.95 89.74 L67.2 89.65 L67.45 89.58 L67.7 89.53 L67.95 89.5 L68.2 89.47 L68.45 89.45 L68.7 89.43 L68.95 89.42 L69.2 89.42 L69.45 89.41 L69.7 89.41 L69.95 89.4 L70.2 89.4 L70.45 89.4 L70.7 89.4 L70.95 89.4 L71.2 89.4 L71.45 89.4 L71.7 89.4 L71.95 89.4 L72.2 89.4 L72.45 89.4 L72.7 89.4 L72.95 89.4 L73.2 89.4 L73.45 89.4 L73.7 89.4 L73.95 89.4 L74.2 89.4 L74.45 89.4 L74.7 89.4 L74.95 89.4 L75.2 89.4 L75.45 89.4 L75.7 89.4 L75.95 89.4 L76.2 89.4 L76.45 89.4 L76.7 89.4 L76.95 89.4 L77.2 89.4 L77.45 89.4 L77.7 89.4 L77.95 89.4 L78.2 89.4 L78.45 89.4 L78.7 89.4 L78.95 89.4 L79.2 89.4 L79.45 89.4 L79.7 89.4 L79.95 89.4 L80.2 89.4 L80.45 89.4 L80.7 89.4 L80.95 89.4 L81.2 89.4 L81.45 89.4 L81.7 89.4 L81.95 89.4 L82.2 89.4 L82.45 89.4 L82.7 89.4 L82.95 89.4 L83.2 89.4 L83.45 89.4 L83.7 89.4 L83.95 89.4 L84.2 89.4 L84.45 89.4 L84.7 89.4 L84.95 89.4 L85.2 89.4 L85.45 89.4 L85.7 89.4 L85.95 89.4 L86.2 89.4 L86.45 89.4 L86.7 89.4 L86.95 89.4 L87.2 89.4 L87.45 89.4 L87.7 89.4 L87.95 89.4 L88.2 89.4 L88.45 89.4 L88.7 89.4 L88.95 89.4 L89.2 89.4 L89.45 89.4 L89.7 89.4 L89.95 89.4 L90.2 89.4 L90.45 89.4 L90.7 89.4 L90.95 89.4 L91.2 89.4 L91.45 89.4 L91.7 89.4 L91.95 89.4 L92.2 89.4 L92.45 89.4 L92.7 89.4 L92.95 89.4 L93.2 89.4 L93.45 89.4 L93.7 89.4 L93.95 89.4 L94.2 89.4 L94.45 89.4 L94.7 89.4 L94.95 89.4 L95.2 89.4 L95.45 89.4 L95.7 89.4 L95.95 89.4 L96.2 89.4 L96.45 89.4 L96.7 89.4 L96.95 89.4 L97.2 89.4 L97.45 89.4 L97.7 89.4 L97.95 89.4 L98.2 89.4 L98.45 89.4 L98.7 89.4 L98.95 89.4 L99.2 89.4 L99.45 89.4 L99.7 89.4 L99.95 89.4 L100.2 89.4 L100.45 89.39 L100.7 89.39 L100.95 89.39 L101.2 89.38 L101.45 89.37 L101.7 89.35 L101.95 89.33 L102.2 89.31 L102.45 89.27 L102.7 89.22 L102.95 89.15 L103.2 89.06 L103.45 88.95 L103.7 88.8 L103.95 88.61 L104.2 88.37 L104.45 88.07 L104.7 87.7 L104.95 87.25 L105.2 86.71 L105.45 86.07 L105.7 85.32 L105.95 84.46 L106.2 83.47 L106.45 82.37 L106.7 81.16 L106.95 79.85 L107.2 78.46 L107.45 77.01 L107.7 75.54 L107.95 74.09 L108.2 72.7 L108.45 71.43 L108.7 70.33 L108.95 69.46 L109.2 68.87 L109.45 68.61 L109.7 68.73 L109.95 69.25 L110.2 70.21 L110.45 71.61 L110.7 73.43 L110.95 75.65 L111.2 78.22 L111.45 81.09 L111.7 84.19 L111.95 87.42 L112.2 90.67 L112.45 93.8 L112.7 96.81 L112.95 99.62 L113.2 102.16 L113.45 104.36 L113.7 106.19 L113.95 107.62 L114.2 108.62 L114.45 109.21 L114.7 109.4 L114.95 109.22 L115.2 108.71 L115.45 107.92 L115.7 106.91 L115.95 105.71 L116.2 104.4 L116.45 103.01 L116.7 101.6 L116.95 100.2 L117.2 98.85 L117.45 97.57 L117.7 96.38 L117.95 95.3 L118.2 94.33 L118.45 93.48 L118.7 92.74 L118.95 92.1 L119.2 91.56 L119.45 91.11 L119.7 90.74 L119.95 90.44 L120.2 90.2 L120.45 90.01 L120.7 89.86 L120.95 89.74 L121.2 89.65 L121.45 89.58 L121.7 89.53 L121.95 89.5 L122.2 89.47 L122.45 89.45 L122.7 89.43 L122.95 89.42 L123.2 89.42 L123.45 89.41 L123.7 89.41 L123.95 89.4 L124.2 89.4 L124.45 89.4 L124.7 89.4 L124.95 89.4 L125.2 89.4 L125.45 89.4 L125.7 89.4 L125.95 89.4 L126.2 89.4 L126.45 89.4 L126.7 89.4 L126.95 89.4 L127.2 89.4 L127.45 89.4 L127.7 89.4 L127.95 89.4 L128.2 89.4 L128.45 89.4 L128.7 89.4 L128.95 89.4 L129.2 89.4 L129.45 89.4 L129.7 89.4 L129.95 89.4 L130.2 89.4 L130.45 89.4 L130.7 89.4 L130.95 89.4 L131.2 89.4 L131.45 89.4 L131.7 89.4 L131.95 89.4 L132.2 89.4 L132.45 89.4 L132.7 89.4 L132.95 89.4 L133.2 89.4 L133.45 89.4 L133.7 89.4 L133.95 89.4 L134.2 89.4 L134.45 89.4 L134.7 89.4 L134.95 89.4 L135.2 89.4 L135.45 89.4 L135.7 89.4 L135.95 89.4 L136.2 89.4 L136.45 89.4 L136.7 89.4 L136.95 89.4 L137.2 89.4 L137.45 89.4 L137.7 89.4 L137.95 89.4 L138.2 89.4 L138.45 89.4 L138.7 89.4 L138.95 89.4 L139.2 89.4 L139.45 89.4 L139.7 89.4 L139.95 89.4 L140.2 89.4 L140.45 89.4 L140.7 89.4 L140.95 89.4 L141.2 89.4 L141.45 89.4 L141.7 89.4 L141.95 89.4 L142.2 89.4 L142.45 89.4 L142.7 89.4 L142.95 89.4 L143.2 89.4 L143.45 89.4 L143.7 89.4 L143.95 89.4 L144.2 89.4 L144.45 89.4 L144.7 89.4 L144.95 89.4 L145.2 89.4 L145.45 89.4 L145.7 89.4 L145.95 89.4 L146.2 89.4 L146.45 89.4 L146.7 89.4 L146.95 89.4 L147.2 89.4 L147.45 89.4 L147.7 89.4 L147.95 89.4 L148.2 89.4 L148.45 89.4 L148.7 89.4 L148.95 89.4 L149.2 89.4 L149.45 89.4 L149.7 89.4 L149.95 89.4 L150.2 89.4 L150.45 89.4 L150.7 89.4 L150.95 89.4 L151.2 89.4 L151.45 89.4 L151.7 89.4 L151.95 89.4 L152.2 89.4 L152.45 89.4 L152.7 89.4 L152.95 89.4 L153.2 89.4 L153.45 89.4 L153.7 89.4 L153.95 89.4 L154.2 89.4 L154.45 89.39 L154.7 89.39 L154.95 89.39 L155.2 89.38 L155.45 89.37 L155.7 89.35 L155.95 89.33 L156.2 89.31 L156.45 89.27 L156.7 89.22 L156.95 89.15 L157.2 89.06 L157.45 88.95 L157.7 88.8 L157.95 88.61 L158.2 88.37 L158.45 88.07 L158.7 87.7 L158.95 87.25 L159.2 86.71 L159.45 86.07 L159.7 85.32 L159.95 84.46 L160.2 83.47 L160.45 82.37 L160.7 81.16 L160.95 79.85 L161.2 78.46 L161.45 77.01 L161.7 75.54 L161.95 74.09 L162.2 72.7 L162.45 71.43 L162.7 70.33 L162.95 69.46 L163.2 68.87 L163.45 68.61 L163.7 68.73 L163.95 69.25 L164.2 70.21 L164.45 71.61 L164.7 73.43 L164.95 75.65 L165.2 78.22 L165.45 81.09 L165.7 84.19 L165.95 87.42 L166.2 90.67 L166.45 93.8 L166.7 96.81 L166.95 99.62 L167.2 102.16 L167.45 104.36 L167.7 106.19 L167.95 107.62 L168.2 108.62 L168.45 109.21 L168.7 109.4 L168.95 109.22 L169.2 108.71 L169.45 107.92 L169.7 106.91 L169.95 105.71 L170.2 104.4 L170.45 103.01 L170.7 101.6 L170.95 100.2 L171.2 98.85 L171.45 97.57 L171.7 96.38 L171.95 95.3 L172.2 94.33 L172.45 93.48 L172.7 92.74 L172.95 92.1 L173.2 91.56 L173.45 91.11 L173.7 90.74 L173.95 90.44 L174.2 90.2 L174.45 90.01 L174.7 89.86 L174.95 89.74 L175.2 89.65 L175.45 89.58 L175.7 89.53 L175.95 89.5 L176.2 89.47 L176.45 89.45 L176.7 89.43 L176.95 89.42 L177.2 89.42 L177.45 89.41 L177.7 89.41 L177.95 89.4 L178.2 89.4 L178.45 89.4 L178.7 89.4 L178.95 89.4 L179.2 89.4 L179.45 89.4 L179.7 89.4 L179.95 89.4 L180.2 89.4 L180.45 89.4 L180.7 89.4 L180.95 89.4 L181.2 89.4 L181.45 89.4 L181.7 89.4 L181.95 89.4 L182.2 89.4 L182.45 89.4 L182.7 89.4 L182.95 89.4 L183.2 89.4 L183.45 89.4 L183.7 89.4 L183.95 89.4 L184.2 89.4 L184.45 89.4 L184.7 89.4 L184.95 89.4 L185.2 89.4 L185.45 89.4 L185.7 89.4 L185.95 89.4 L186.2 89.4 L186.45 89.4 L186.7 89.4 L186.95 89.4 L187.2 89.4 L187.45 89.4 L187.7 89.4 L187.95 89.4 L188.2 89.4 L188.45 89.4 L188.7 89.4 L188.95 89.4 L189.2 89.4 L189.45 89.4 L189.7 89.4 L189.95 89.4 L190.2 89.4 L190.45 89.4 L190.7 89.4 L190.95 89.4 L191.2 89.4 L191.45 89.4 L191.7 89.4 L191.95 89.4 L192.2 89.4 L192.45 89.4 L192.7 89.4 L192.95 89.4 L193.2 89.4 L193.45 89.4 L193.7 89.4 L193.95 89.4 L194.2 89.4 L194.45 89.4 L194.7 89.4 L194.95 89.4 L195.2 89.4 L195.45 89.4 L195.7 89.4 L195.95 89.4 L196.2 89.4 L196.45 89.4 L196.7 89.4 L196.95 89.4 L197.2 89.4 L197.45 89.4 L197.7 89.4 L197.95 89.4 L198.2 89.4 L198.45 89.4 L198.7 89.4 L198.95 89.4 L199.2 89.4 L199.45 89.4 L199.7 89.4 L199.95 89.4 L200.2 89.4 L200.45 89.4 L200.7 89.4 L200.95 89.4 L201.2 89.4 L201.45 89.4 L201.7 89.4 L201.95 89.4 L202.2 89.4 L202.45 89.4 L202.7 89.4 L202.95 89.4 L203.2 89.4 L203.45 89.4 L203.7 89.4 L203.95 89.4 L204.2 89.4 L204.45 89.4 L204.7 89.4 L204.95 89.4 L205.2 89.4 L205.45 89.4 L205.7 89.4 L205.95 89.4 L206.2 89.4 L206.45 89.4 L206.7 89.4 L206.95 89.4 L207.2 89.4 L207.45 89.4 L207.7 89.4 L207.95 89.4 L208.2 89.4 L208.45 89.4 L208.7 89.4 L208.95 89.4 L209.2 89.4 L209.45 89.4 L209.7 89.4 L209.95 89.4 L210.2 89.4 L210.45 89.4 L210.7 89.4 L210.95 89.4 L211.2 89.4 L211.45 89.4 L211.7 89.4 L211.95 89.4 L212.2 89.4 L212.45 89.4 L212.7 89.4 L212.95 89.4 L213.2 89.4 L213.45 89.4 L213.7 89.4 L213.95 89.4 L214.2 89.4 L214.45 89.4 L214.7 89.4 L214.95 89.4 L215.2 89.4 L215.45 89.4 L215.7 89.4 L215.95 89.4 L216.2 89.4 L216.45 89.4 L216.7 89.4 L216.95 89.4 L217.2 89.4 L217.45 89.4 L217.7 89.4 L217.95 89.4 L218.2 89.4 L218.45 89.4" fill="none" stroke="#d8363f" stroke-width="1.5" stroke-linejoin="round"/>
<rect x="15.4" y="1.8" width="204" height="175.2" fill="none" stroke="#000" stroke-width="1.6"/>
<line x1="31.3" y1="176.3" x2="31.3" y2="174.7" stroke="#000" stroke-width="1.2" stroke-linecap="butt"/>
<line x1="94" y1="176.3" x2="94" y2="174.7" stroke="#000" stroke-width="1.2" stroke-linecap="butt"/>
<line x1="156.7" y1="176.3" x2="156.7" y2="174.7" stroke="#000" stroke-width="1.2" stroke-linecap="butt"/>
<line x1="62.65" y1="176.3" x2="62.65" y2="175.3" stroke="#000" stroke-width="1" stroke-linecap="butt"/>
<line x1="125.35" y1="176.3" x2="125.35" y2="175.3" stroke="#000" stroke-width="1" stroke-linecap="butt"/>
<line x1="188.05" y1="176.3" x2="188.05" y2="175.3" stroke="#000" stroke-width="1" stroke-linecap="butt"/>
<text x="31.3" y="189.3" font-size="11.3" font-weight="bold" fill="#000" text-anchor="middle">3480</text>
<text x="94" y="189.3" font-size="11.3" font-weight="bold" fill="#000" text-anchor="middle">3500</text>
<text x="156.7" y="189.3" font-size="11.3" font-weight="bold" fill="#000" text-anchor="middle">3520</text>
<text x="219.4" y="189.3" font-size="11.3" font-weight="bold" fill="#000" text-anchor="middle">3540</text>
<text x="19.9" y="19.3" font-size="19" font-weight="bold" fill="#000" text-anchor="start">a</text>
<text x="117.4" y="200.7" font-size="13.25" font-weight="bold" fill="#000" text-anchor="middle">Magnetic field (Gauss)</text>
<text x="0" y="0" font-size="13.25" font-weight="bold" fill="#000" text-anchor="middle" transform="translate(10,89.7) rotate(-90)">Intensity (arb.units)</text>
<path d="M243.7 82.31 L244.4 81.15 L245.1 83.33 L245.8 81.41 L246.5 82.66 L247.2 82.66 L247.9 80.5 L248.6 82.24 L249.3 82.44 L250 81.67 L250.7 81.27 L251.4 82.43 L252.1 81.81 L252.8 83.37 L253.5 82.77 L254.2 82.84 L254.9 83.73 L255.6 83.91 L256.3 84.03 L257 82.64 L257.7 82.57 L258.4 82.72 L259.1 82.31 L259.8 83.6 L260.5 81.84 L260.85 81.22 L261.2 80.19 L261.55 78.51 L261.9 76 L262.25 72.88 L262.6 68.63 L262.95 62.98 L263.3 56.77 L263.65 51.18 L264 46.88 L264.35 44.44 L264.7 45.53 L265.05 51.34 L265.4 61.09 L265.75 73.33 L266.1 86.88 L266.45 99.4 L266.8 109.6 L267.15 117.4 L267.5 121.13 L267.85 119.81 L268.2 115.55 L268.55 110.22 L268.9 104.24 L269.25 98.57 L269.6 93.74 L269.95 89.71 L270.3 86.77 L270.65 84.87 L271 83.67 L271.35 82.87 L271.7 82.37 L272.05 82.18 L272.75 82.85 L273.45 83 L274.15 83.2 L274.85 82.92 L275.55 82.82 L276.25 82.26 L276.95 82.8 L277.65 83.88 L278.35 83.42 L279.05 83.92 L279.75 82.5 L280.45 82.65 L281.15 83.75 L281.85 82.8 L282.55 81.83 L283.25 82.56 L283.95 82.86 L284.65 82.23 L285.35 82.84 L286.05 82.81 L286.75 82.42 L287.45 82.65 L288.15 83.01 L288.85 82.26 L289.55 81.3 L290.25 82.68 L290.95 82.84 L291.65 81.16 L292.35 82.17 L293.05 82.49 L293.75 82.48 L294.45 81.81 L295.15 81.47 L295.85 82.4 L296.55 82.62 L297.25 82.61 L297.95 82.59 L298.65 82.93 L299.35 81.81 L300.05 82.33 L300.75 85.16 L301.45 84.26 L302.15 82.53 L302.85 82.29 L303.55 82.32 L304.25 82.58 L304.95 82.31 L305.65 81.75 L306.35 82.14 L307.05 82.81 L307.75 81.62 L308.45 81.16 L309.15 82.62 L309.85 81.67 L310.55 80.55 L311.25 81.07 L311.6 80.16 L311.95 78.27 L312.3 75.17 L312.65 70.04 L313 62.99 L313.35 54.46 L313.7 44.29 L314.05 33.27 L314.4 23.13 L314.75 15.93 L315.1 13.79 L315.45 18.17 L315.8 29.97 L316.15 48.33 L316.5 71.31 L316.85 96.64 L317.2 120.13 L317.55 138.43 L317.9 149.72 L318.25 152.86 L318.6 149.35 L318.95 141.55 L319.3 131.08 L319.65 119.69 L320 109.17 L320.35 100.48 L320.7 93.84 L321.05 89.46 L321.4 86.66 L321.75 84.76 L322.1 83.65 L322.45 83.03 L322.8 82.72 L323.5 83.59 L324.2 81.74 L324.9 81.03 L325.6 82.23 L326.3 82.64 L327 82.66 L327.7 83.18 L328.4 83.2 L329.1 82.8 L329.8 83.24 L330.5 82.84 L331.2 83.98 L331.9 82.05 L332.6 82.35 L333.3 83.55 L334 84.7 L334.7 82.41 L335.4 81.3 L336.1 83.13 L336.8 82.88 L337.5 82.97 L338.2 81.75 L338.9 83.32 L339.6 81.41 L340.3 82.7 L341 81.48 L341.7 82.37 L342.4 82.63 L343.1 83.88 L343.8 83.09 L344.5 82.66 L345.2 81.74 L345.9 82.16 L346.6 83.1 L347.3 81.99 L348 81.41 L348.7 82.55 L349.4 82.84 L350.1 82.79 L350.8 81.59 L351.5 81.86 L352.2 83.33 L352.9 82.03 L353.6 82.88 L354.3 83.15 L355 81.16 L355.7 81.58 L356.4 83.12 L357.1 82.32 L357.8 81.9 L358.5 83.04 L359.2 82.52 L359.9 81.72 L360.6 84.11 L361.3 81.69 L362 80.53 L362.35 79.19 L362.7 76.91 L363.05 73.62 L363.4 68.6 L363.75 60.88 L364.1 51.21 L364.45 40.68 L364.8 29.85 L365.15 19.94 L365.5 13.61 L365.85 13.19 L366.2 19.87 L366.55 34.04 L366.9 54.51 L367.25 78.93 L367.6 104.06 L367.95 126.03 L368.3 142.22 L368.65 150.85 L369 152.09 L369.35 147.76 L369.7 139.2 L370.05 127.96 L370.4 116.57 L370.75 106.64 L371.1 98.6 L371.45 92.76 L371.8 88.76 L372.15 85.53 L372.5 83.36 L372.85 82.89 L373.2 82.85 L373.55 81.51 L374.25 82.38 L374.95 84.54 L375.65 83.03 L376.35 81.59 L377.05 82.24 L377.75 82.58 L378.45 83.38 L379.15 83.67 L379.85 83.23 L380.55 83.03 L381.25 82.07 L381.95 81.93 L382.65 82.19 L383.35 82.56 L384.05 82.97 L384.75 82.56 L385.45 82.49 L386.15 81.91 L386.85 82.21 L387.55 81.89 L388.25 81.94 L388.95 82.36 L389.65 82.26 L390.35 81.96 L391.05 81.51 L391.75 82.13 L392.45 81.83 L393.15 82.35 L393.85 83.24 L394.55 83.93 L395.25 82.8 L395.95 82.14 L396.65 83.04 L397.35 82.71 L398.05 81.42 L398.75 82.27 L399.45 83.14 L400.15 82.47 L400.85 82.33 L401.55 83.03 L402.25 83.5 L402.95 82.18 L403.65 81.2 L404.35 80.82 L405.05 82.03 L405.75 82.8 L406.45 82.43 L407.15 83.14 L407.85 83.81 L408.55 82.74 L409.25 81.9 L409.95 82.35 L410.65 81.85 L411.35 82.24 L412.05 82.24 L412.4 81.66 L412.75 81.25 L413.1 80.47 L413.45 79.02 L413.8 76.77 L414.15 73.4 L414.5 68.92 L414.85 63.59 L415.2 57.62 L415.55 51.64 L415.9 46.78 L416.25 44.24 L416.6 45.07 L416.95 49.58 L417.3 58.07 L417.65 70.47 L418 84.48 L418.35 97.44 L418.7 108.31 L419.05 116.08 L419.4 119.81 L419.75 119.78 L420.1 116.67 L420.45 111.19 L420.8 104.92 L421.15 99.37 L421.5 94.6 L421.85 90.17 L422.2 86.82 L422.55 85.22 L422.9 84.34 L423.25 83.52 L423.6 83.03 L423.95 82.69 L424.65 81.86 L425.35 81.54 L426.05 81.5 L426.75 82.06 L427.45 82.98 L428.15 82.6 L428.85 81.97 L429.55 82.73 L430.25 82.39 L430.95 81.81 L431.65 82.78 L432.35 82.66 L433.05 82.84 L433.75 83.5 L434.45 82.64 L435.15 82.98 L435.85 83.16 L436.55 83.06 L437.25 82.71 L437.95 82.4 L438.65 82.67 L439.35 83.06 L440.05 83.32 L440.75 82.1 L441.45 81.7 L442.15 83.09 L442.85 82.86 L443.55 81.49 L444.25 82.14 L444.95 81.88 L445.65 82.22" fill="none" stroke="#d8363f" stroke-width="1.7" stroke-linejoin="round"/>
<path d="M243.7 81.09 L244.4 81.12 L245.1 83.49 L245.8 84.18 L246.5 82.01 L247.2 83.83 L247.9 82.53 L248.6 83.68 L249.3 81.34 L250 81.6 L250.7 81.84 L251.4 82.38 L252.1 82.35 L252.8 82.7 L253.5 82.02 L254.2 82.15 L254.9 81.94 L255.6 82.83 L256.3 80.5 L257 82.12 L257.7 81.01 L258.4 81.07 L259.1 83.26 L259.8 83.99 L260.5 81.48 L260.85 81.42 L261.2 81.07 L261.55 79.87 L261.9 78.09 L262.25 75.74 L262.6 72.61 L262.95 68.63 L263.3 64.26 L263.65 60.38 L264 57.4 L264.35 55.68 L264.7 56.44 L265.05 60.35 L265.4 67.03 L265.75 75.62 L266.1 85.29 L266.45 95.35 L266.8 103.7 L267.15 108.33 L267.5 109.96 L267.85 109.53 L268.2 106.93 L268.55 103.34 L268.9 99.28 L269.25 94.81 L269.6 90.96 L269.95 87.95 L270.3 85.74 L270.65 84.23 L271 83.24 L271.35 82.85 L271.7 82.69 L272.05 81.85 L272.75 81.72 L273.45 82.89 L274.15 83.24 L274.85 82.37 L275.55 82.33 L276.25 82.29 L276.95 81.47 L277.65 81.6 L278.35 81.6 L279.05 81.98 L279.75 82.49 L280.45 82.7 L281.15 83 L281.85 83.49 L282.55 83.46 L283.25 83.21 L283.95 83.65 L284.65 83.04 L285.35 82.1 L286.05 82.34 L286.75 81.89 L287.45 81.25 L288.15 81.41 L288.85 82.18 L289.55 83.45 L290.25 82.87 L290.95 81.97 L291.65 81.88 L292.35 81.83 L293.05 81.56 L293.75 81.91 L294.45 82.21 L295.15 82.51 L295.85 84 L296.55 83.78 L297.25 81.87 L297.95 82.49 L298.65 82.73 L299.35 82.23 L300.05 82.94 L300.75 82.58 L301.45 82.27 L302.15 82.78 L302.85 82.82 L303.55 82.11 L304.25 81.76 L304.95 82.36 L305.65 82 L306.35 80.67 L307.05 80.24 L307.75 81.86 L308.45 82.98 L309.15 83.24 L309.85 83.1 L310.55 81.72 L311.25 81.62 L311.6 81.14 L311.95 79.84 L312.3 77.69 L312.65 73.99 L313 68.94 L313.35 62.78 L313.7 55.49 L314.05 48.09 L314.4 41.31 L314.75 36.18 L315.1 34.55 L315.45 38.15 L315.8 46.9 L316.15 59.49 L316.5 75.3 L316.85 92.74 L317.2 109.05 L317.55 121.93 L317.9 129.8 L318.25 132.05 L318.6 129.57 L318.95 124.48 L319.3 117.5 L319.65 109.73 L320 102.58 L320.35 95.91 L320.7 90.69 L321.05 87.6 L321.4 85.62 L321.75 84.1 L322.1 83.13 L322.45 82.62 L322.8 81.88 L323.5 81.84 L324.2 80.96 L324.9 81.05 L325.6 84.06 L326.3 82.46 L327 80.4 L327.7 82.81 L328.4 81.43 L329.1 82.46 L329.8 82.82 L330.5 80.82 L331.2 81.36 L331.9 82.64 L332.6 81.49 L333.3 83.71 L334 83.13 L334.7 81.5 L335.4 82.36 L336.1 83.46 L336.8 81.95 L337.5 82.07 L338.2 81.12 L338.9 81.44 L339.6 82.68 L340.3 82.88 L341 82.54 L341.7 82.63 L342.4 80.94 L343.1 80.81 L343.8 81.04 L344.5 82.02 L345.2 82.64 L345.9 81.5 L346.6 82.75 L347.3 82.16 L348 84.07 L348.7 82.82 L349.4 80.96 L350.1 83.43 L350.8 83.89 L351.5 82.56 L352.2 80.73 L352.9 80.95 L353.6 82.76 L354.3 82.88 L355 82.51 L355.7 83.33 L356.4 82.36 L357.1 82.7 L357.8 83.88 L358.5 82.98 L359.2 82.66 L359.9 83.25 L360.6 83.47 L361.3 81.23 L362 80.56 L362.35 80.03 L362.7 78.87 L363.05 76.37 L363.4 72.68 L363.75 67.4 L364.1 60.78 L364.45 53.5 L364.8 46.01 L365.15 39.49 L365.5 35.43 L365.85 34.71 L366.2 38.89 L366.55 49.09 L366.9 63.64 L367.25 80.28 L367.6 97.88 L367.95 113.52 L368.3 125.05 L368.65 131.43 L369 132.56 L369.35 129.11 L369.7 122.64 L370.05 114.68 L370.4 106.62 L370.75 99.38 L371.1 93.49 L371.45 89.38 L371.8 86.58 L372.15 84.79 L372.5 83.75 L372.85 83.34 L373.2 83.24 L373.55 83.21 L374.25 82.93 L374.95 82.92 L375.65 81.96 L376.35 81.81 L377.05 82.4 L377.75 82.88 L378.45 82.79 L379.15 82.36 L379.85 82.81 L380.55 83.12 L381.25 82.21 L381.95 82.79 L382.65 83.45 L383.35 83.21 L384.05 82.21 L384.75 81.32 L385.45 81.84 L386.15 81.94 L386.85 82.06 L387.55 82.11 L388.25 83.05 L388.95 83.06 L389.65 81.97 L390.35 82.82 L391.05 82.7 L391.75 81.65 L392.45 82.83 L393.15 83.4 L393.85 82.79 L394.55 82.82 L395.25 82.47 L395.95 82.84 L396.65 83.15 L397.35 82.4 L398.05 81.93 L398.75 82.01 L399.45 82.5 L400.15 82.18 L400.85 83.05 L401.55 82.93 L402.25 82.09 L402.95 83.18 L403.65 83.24 L404.35 83.53 L405.05 84.34 L405.75 83.59 L406.45 82.95 L407.15 82.42 L407.85 82.48 L408.55 83.49 L409.25 83.53 L409.95 82.02 L410.65 81.52 L411.35 82.66 L412.05 82.54 L412.4 82.42 L412.75 82.08 L413.1 81.48 L413.45 80.25 L413.8 78.47 L414.15 76.05 L414.5 72.84 L414.85 68.88 L415.2 64.47 L415.55 60.26 L415.9 56.84 L416.25 55.22 L416.6 55.98 L416.95 59.59 L417.3 66.01 L417.65 74.5 L418 84.19 L418.35 94.22 L418.7 102.71 L419.05 108.12 L419.4 110.55 L419.75 110.1 L420.1 107.38 L420.45 103.66 L420.8 99.36 L421.15 94.89 L421.5 90.99 L421.85 88.36 L422.2 86.54 L422.55 84.62 L422.9 83.23 L423.25 82.8 L423.6 82.6 L423.95 82.38 L424.65 82.21 L425.35 83.32 L426.05 83.8 L426.75 83.13 L427.45 81.94 L428.15 81.59 L428.85 82.74 L429.55 82.23 L430.25 82.5 L430.95 82.22 L431.65 82.04 L432.35 82.78 L433.05 82.89 L433.75 82.45 L434.45 83.08 L435.15 83.14 L435.85 82.46 L436.55 82.79 L437.25 82.95 L437.95 82.86 L438.65 82.19 L439.35 82.01 L440.05 81.95 L440.75 81.93 L441.45 81.59 L442.15 82.1 L442.85 83.18 L443.55 83.63 L444.25 82.7 L444.95 82.25 L445.65 82.06" fill="none" stroke="#a3a3d6" stroke-width="1.7" stroke-linejoin="round"/>
<path d="M243.7 81.49 L244.4 80.46 L245.1 82.58 L245.8 83.34 L246.5 83.25 L247.2 81.51 L247.9 82.99 L248.6 82.81 L249.3 81.72 L250 82.39 L250.7 82.28 L251.4 82.94 L252.1 83.04 L252.8 82.24 L253.5 82.25 L254.2 81.81 L254.9 82.9 L255.6 82.05 L256.3 81.92 L257 82.32 L257.7 81.83 L258.4 81.39 L259.1 82.18 L259.8 82.2 L260.5 82.26 L260.85 81.5 L261.2 80.38 L261.55 79.06 L261.9 76.99 L262.25 73.95 L262.6 69.92 L262.95 65.06 L263.3 59.68 L263.65 54.12 L264 49.71 L264.35 47.41 L264.7 48.25 L265.05 53.57 L265.4 62.4 L265.75 73.54 L266.1 85.96 L266.45 97.9 L266.8 107.69 L267.15 114.47 L267.5 117.5 L267.85 116.69 L268.2 113.19 L268.55 108.34 L268.9 102.9 L269.25 97.56 L269.6 92.99 L269.95 89.25 L270.3 86.5 L270.65 84.76 L271 83.67 L271.35 83.1 L271.7 82.81 L272.05 83.02 L272.75 82.7 L273.45 82.82 L274.15 82.56 L274.85 82.19 L275.55 82.57 L276.25 82.01 L276.95 81.73 L277.65 82.77 L278.35 83.17 L279.05 82.34 L279.75 82.76 L280.45 84.15 L281.15 83.64 L281.85 82.46 L282.55 82.21 L283.25 82.14 L283.95 82.29 L284.65 82.21 L285.35 81.59 L286.05 81.47 L286.75 81.89 L287.45 82.33 L288.15 82.03 L288.85 81.93 L289.55 82.12 L290.25 83.08 L290.95 83.33 L291.65 82.33 L292.35 82.68 L293.05 81.99 L293.75 81.55 L294.45 82.27 L295.15 82.73 L295.85 81.72 L296.55 81.09 L297.25 81.7 L297.95 82.45 L298.65 82.13 L299.35 81.47 L300.05 82.26 L300.75 82.59 L301.45 83.26 L302.15 82.89 L302.85 82.62 L303.55 82.52 L304.25 82.2 L304.95 82.93 L305.65 82.53 L306.35 82.11 L307.05 82.86 L307.75 83 L308.45 82.13 L309.15 82.21 L309.85 83.14 L310.55 82.91 L311.25 81.44 L311.6 80.49 L311.95 78.55 L312.3 75.49 L312.65 70.88 L313 64.48 L313.35 56.38 L313.7 46.76 L314.05 36.52 L314.4 27.11 L314.75 20.67 L315.1 18.92 L315.45 22.74 L315.8 33.43 L316.15 50.87 L316.5 72.6 L316.85 95.42 L317.2 116.27 L317.55 132.41 L317.9 142.24 L318.25 145.08 L318.6 141.96 L318.95 135.49 L319.3 126.63 L319.65 116.61 L320 107.37 L320.35 99.17 L320.7 92.79 L321.05 88.93 L321.4 86.48 L321.75 84.36 L322.1 82.95 L322.45 82.87 L322.8 83.63 L323.5 82.93 L324.2 81.58 L324.9 81.49 L325.6 81.96 L326.3 81.95 L327 82.53 L327.7 82.84 L328.4 82.6 L329.1 81.14 L329.8 81.7 L330.5 82.38 L331.2 82.08 L331.9 81.57 L332.6 81.22 L333.3 82.53 L334 82.48 L334.7 82.07 L335.4 79.81 L336.1 82.16 L336.8 81.14 L337.5 83.93 L338.2 81.56 L338.9 83.8 L339.6 83.47 L340.3 83.03 L341 82.54 L341.7 82.22 L342.4 82.04 L343.1 82.18 L343.8 82.83 L344.5 79.82 L345.2 82.01 L345.9 81.74 L346.6 80.39 L347.3 81.44 L348 81.83 L348.7 82.08 L349.4 80.55 L350.1 83.47 L350.8 83.35 L351.5 82.25 L352.2 84.42 L352.9 83.17 L353.6 81.28 L354.3 82.86 L355 82.24 L355.7 81.71 L356.4 83.55 L357.1 82.13 L357.8 83.02 L358.5 83.48 L359.2 82.67 L359.9 82.44 L360.6 82.73 L361.3 82.7 L362 80.57 L362.35 79.25 L362.7 77.06 L363.05 73.8 L363.4 68.95 L363.75 62.27 L364.1 53.79 L364.45 44.04 L364.8 34.02 L365.15 25.11 L365.5 19.48 L365.85 19.16 L366.2 25.38 L366.55 38.12 L366.9 56.67 L367.25 78.87 L367.6 101.2 L367.95 120.95 L368.3 135.52 L368.65 143.71 L369 145.27 L369.35 141.14 L369.7 133.21 L370.05 123.26 L370.4 113.18 L370.75 104.28 L371.1 97.07 L371.45 91.6 L371.8 87.77 L372.15 85.18 L372.5 83.54 L372.85 83.12 L373.2 83.1 L373.55 81.9 L374.25 82.44 L374.95 84.33 L375.65 84.03 L376.35 83.66 L377.05 83.02 L377.75 81.49 L378.45 81.72 L379.15 82.2 L379.85 82.03 L380.55 82.5 L381.25 82.83 L381.95 81.78 L382.65 81.29 L383.35 82.72 L384.05 81.58 L384.75 81.18 L385.45 82.1 L386.15 82.27 L386.85 82.88 L387.55 83.52 L388.25 83.2 L388.95 81.69 L389.65 81.39 L390.35 82.28 L391.05 81.96 L391.75 82.34 L392.45 82.18 L393.15 81.73 L393.85 82.82 L394.55 82.48 L395.25 81.81 L395.95 82.32 L396.65 82.46 L397.35 81.81 L398.05 81.22 L398.75 82.12 L399.45 84.12 L400.15 82.69 L400.85 81.52 L401.55 82.74 L402.25 82.39 L402.95 82.4 L403.65 82.1 L404.35 82.5 L405.05 83.12 L405.75 83.12 L406.45 82.27 L407.15 81.77 L407.85 81.98 L408.55 81.17 L409.25 82.3 L409.95 83.1 L410.65 82.15 L411.35 81.97 L412.05 82.18 L412.4 81.97 L412.75 81.32 L413.1 80.33 L413.45 79 L413.8 76.95 L414.15 74.31 L414.5 70.67 L414.85 65.73 L415.2 60.2 L415.55 54.68 L415.9 50.16 L416.25 47.96 L416.6 48.79 L416.95 53.17 L417.3 61.13 L417.65 72.15 L418 84.65 L418.35 96.26 L418.7 105.94 L419.05 113.42 L419.4 117.17 L419.75 116.87 L420.1 113.73 L420.45 108.95 L420.8 103.45 L421.15 98.01 L421.5 93.3 L421.85 89.57 L422.2 86.84 L422.55 85.2 L422.9 84.22 L423.25 83.28 L423.6 82.65 L423.95 81.81 L424.65 81.64 L425.35 81.85 L426.05 81.8 L426.75 82.14 L427.45 81.48 L428.15 81.84 L428.85 82.55 L429.55 81.7 L430.25 81.75 L430.95 82.78 L431.65 83.46 L432.35 82.16 L433.05 82.1 L433.75 82.87 L434.45 82.13 L435.15 82.08 L435.85 83.24 L436.55 84.22 L437.25 83.39 L437.95 82.84 L438.65 82.91 L439.35 82.48 L440.05 82.27 L440.75 82.98 L441.45 83.9 L442.15 82.77 L442.85 82.25 L443.55 83.29 L444.25 83.97 L444.95 83.12 L445.65 82.76" fill="none" stroke="#3d6fae" stroke-width="1.7" stroke-linejoin="round"/>
<path d="M243.7 82.23 L244.4 82.09 L245.1 83.09 L245.8 83.97 L246.5 82.94 L247.2 82.56 L247.9 82.76 L248.6 81.91 L249.3 82.2 L250 82.97 L250.7 82.09 L251.4 82.48 L252.1 82.67 L252.8 81.79 L253.5 83.31 L254.2 81.84 L254.9 81.8 L255.6 83.52 L256.3 82.5 L257 82.49 L257.7 83.02 L258.4 82.71 L259.1 82.83 L259.8 82.27 L260.5 82.08 L260.85 81.85 L261.2 81.31 L261.55 79.78 L261.9 77.64 L262.25 75.13 L262.6 71.8 L262.95 67.89 L263.3 63.56 L263.65 59.01 L264 55.41 L264.35 53.71 L264.7 54.61 L265.05 59.04 L265.4 66.37 L265.75 75.39 L266.1 85.53 L266.45 95.7 L266.8 104.05 L267.15 109.49 L267.5 111.76 L267.85 111.29 L268.2 108.54 L268.55 104.43 L268.9 99.82 L269.25 95.01 L269.6 90.86 L269.95 88.02 L270.3 86.01 L270.65 84.43 L271 83.4 L271.35 82.68 L271.7 82.2 L272.05 82.12 L272.75 82.75 L273.45 82.27 L274.15 82.18 L274.85 82.29 L275.55 82.26 L276.25 81.63 L276.95 81.46 L277.65 82.13 L278.35 82.27 L279.05 82.26 L279.75 82.74 L280.45 82.92 L281.15 82.27 L281.85 82.53 L282.55 82.72 L283.25 82.41 L283.95 82.57 L284.65 81.85 L285.35 81.52 L286.05 82.11 L286.75 82.52 L287.45 82.59 L288.15 82.46 L288.85 82.51 L289.55 82.36 L290.25 81.65 L290.95 81.34 L291.65 81.56 L292.35 81.55 L293.05 81.24 L293.75 81.8 L294.45 82.93 L295.15 82.7 L295.85 82.27 L296.55 82.32 L297.25 82.56 L297.95 82.38 L298.65 81.74 L299.35 81.86 L300.05 82.4 L300.75 82.13 L301.45 82.15 L302.15 82.58 L302.85 82.41 L303.55 82.94 L304.25 82.51 L304.95 81.91 L305.65 82.28 L306.35 82.17 L307.05 82.2 L307.75 82.65 L308.45 82.28 L309.15 81.75 L309.85 82.11 L310.55 81.23 L311.25 81.24 L311.6 80.86 L311.95 79.15 L312.3 76.56 L312.65 73.09 L313 68.2 L313.35 61.9 L313.7 54.4 L314.05 45.86 L314.4 37.98 L314.75 33.02 L315.1 31.79 L315.45 34.95 L315.8 43.58 L316.15 57.37 L316.5 74.57 L316.85 93.14 L317.2 110.46 L317.55 124.13 L317.9 132.54 L318.25 134.95 L318.6 132.39 L318.95 126.58 L319.3 118.78 L319.65 110.55 L320 102.96 L320.35 96.51 L320.7 91.58 L321.05 87.94 L321.4 85.48 L321.75 84.22 L322.1 83.55 L322.45 82.92 L322.8 82.37 L323.5 82.26 L324.2 82.73 L324.9 83.46 L325.6 83.11 L326.3 82.2 L327 82.68 L327.7 81.37 L328.4 82.64 L329.1 82.19 L329.8 82.02 L330.5 82.35 L331.2 82.23 L331.9 81.84 L332.6 82.48 L333.3 82.21 L334 82.59 L334.7 81.29 L335.4 82.3 L336.1 81.94 L336.8 84.04 L337.5 82.66 L338.2 83.02 L338.9 82.38 L339.6 82.64 L340.3 82.97 L341 82.55 L341.7 81.95 L342.4 81.81 L343.1 82.69 L343.8 81.81 L344.5 82.74 L345.2 82.06 L345.9 82.87 L346.6 81.82 L347.3 81.12 L348 82.56 L348.7 81.72 L349.4 83.2 L350.1 82.75 L350.8 80.93 L351.5 82.43 L352.2 82.12 L352.9 83.29 L353.6 82.4 L354.3 82.83 L355 81.73 L355.7 82.69 L356.4 80.99 L357.1 83 L357.8 82.22 L358.5 83.5 L359.2 82.62 L359.9 81.72 L360.6 82.4 L361.3 82.83 L362 81.14 L362.35 80.07 L362.7 78.31 L363.05 75.69 L363.4 71.79 L363.75 66.33 L364.1 59.42 L364.45 51.79 L364.8 43.95 L365.15 36.55 L365.5 31.76 L365.85 31.58 L366.2 36.6 L366.55 47.24 L366.9 62.49 L367.25 79.8 L367.6 97.96 L367.95 114.69 L368.3 127.09 L368.65 133.65 L369 134.69 L369.35 131.46 L369.7 125.07 L370.05 116.72 L370.4 108.25 L370.75 100.96 L371.1 95.07 L371.45 90.29 L371.8 86.89 L372.15 84.99 L372.5 83.88 L372.85 83.26 L373.2 82.96 L373.55 82.92 L374.25 82.22 L374.95 82.31 L375.65 82.46 L376.35 82.57 L377.05 83.18 L377.75 82.99 L378.45 82.61 L379.15 82.43 L379.85 82.09 L380.55 82.25 L381.25 82.61 L381.95 82.29 L382.65 82.07 L383.35 82.3 L384.05 82.35 L384.75 82.94 L385.45 83.15 L386.15 82.99 L386.85 82.94 L387.55 82.25 L388.25 82.61 L388.95 82.61 L389.65 82.3 L390.35 82.61 L391.05 82.58 L391.75 82.33 L392.45 82.39 L393.15 83.15 L393.85 82.88 L394.55 82.35 L395.25 82.27 L395.95 82.06 L396.65 82.57 L397.35 82.68 L398.05 82.31 L398.75 82.39 L399.45 82.39 L400.15 82.29 L400.85 82.47 L401.55 82.59 L402.25 82.17 L402.95 82.42 L403.65 82.71 L404.35 82.7 L405.05 82.97 L405.75 82.81 L406.45 82.47 L407.15 81.93 L407.85 82.04 L408.55 82.2 L409.25 81.99 L409.95 82.23 L410.65 83.23 L411.35 83.18 L412.05 82.19 L412.4 81.99 L412.75 81.73 L413.1 81.19 L413.45 79.98 L413.8 78.17 L414.15 75.6 L414.5 72.2 L414.85 68.48 L415.2 64.28 L415.55 59.78 L415.9 56.11 L416.25 54.06 L416.6 54.53 L416.95 58.43 L417.3 65.28 L417.65 74.09 L418 84.15 L418.35 94.31 L418.7 102.83 L419.05 108.75 L419.4 111.52 L419.75 111.32 L420.1 108.72 L420.45 104.68 L420.8 100.02 L421.15 95.27 L421.5 91.13 L421.85 88.2 L422.2 86.12 L422.55 84.75 L422.9 83.94 L423.25 83.23 L423.6 82.78 L423.95 82.44 L424.65 82.16 L425.35 82.84 L426.05 82.83 L426.75 82.51 L427.45 82.67 L428.15 82.05 L428.85 82.04 L429.55 82.63 L430.25 82.61 L430.95 82.61 L431.65 82.01 L432.35 81.61 L433.05 81.92 L433.75 82.34 L434.45 82.76 L435.15 82.51 L435.85 82.93 L436.55 82.72 L437.25 82.47 L437.95 82.72 L438.65 82.28 L439.35 82.52 L440.05 82.52 L440.75 82.11 L441.45 81.69 L442.15 81.77 L442.85 81.79 L443.55 81.77 L444.25 82.32 L444.95 82.22 L445.65 82.31" fill="none" stroke="#dcc32a" stroke-width="2" stroke-linejoin="round"/>
<rect x="242.9" y="1.8" width="204.1" height="175.3" fill="none" stroke="#000" stroke-width="1.6"/>
<line x1="259.9" y1="176.4" x2="259.9" y2="174.8" stroke="#000" stroke-width="1.2" stroke-linecap="butt"/>
<line x1="328" y1="176.4" x2="328" y2="174.8" stroke="#000" stroke-width="1.2" stroke-linecap="butt"/>
<line x1="396" y1="176.4" x2="396" y2="174.8" stroke="#000" stroke-width="1.2" stroke-linecap="butt"/>
<line x1="294" y1="176.4" x2="294" y2="175.4" stroke="#000" stroke-width="1" stroke-linecap="butt"/>
<line x1="362" y1="176.4" x2="362" y2="175.4" stroke="#000" stroke-width="1" stroke-linecap="butt"/>
<line x1="430" y1="176.4" x2="430" y2="175.4" stroke="#000" stroke-width="1" stroke-linecap="butt"/>
<text x="259.9" y="189.3" font-size="11.3" font-weight="bold" fill="#000" text-anchor="middle">3480</text>
<text x="328" y="189.3" font-size="11.3" font-weight="bold" fill="#000" text-anchor="middle">3500</text>
<text x="396" y="189.3" font-size="11.3" font-weight="bold" fill="#000" text-anchor="middle">3520</text>
<text x="247.9" y="19.5" font-size="20" font-weight="bold" fill="#000" text-anchor="start">b</text>
<text x="344.95" y="200.7" font-size="13.25" font-weight="bold" fill="#000" text-anchor="middle">Magnetic field (Gauss)</text>
<text x="0" y="0" font-size="13.25" font-weight="bold" fill="#000" text-anchor="middle" transform="translate(237.5,89.75) rotate(-90)">Intensity (arb.units)</text>
<path d="M470.4 87.92 L470.9 88.15 L471.4 87.93 L471.9 87.9 L472.4 87.71 L472.9 87.92 L473.4 88.31 L473.9 88.09 L474.4 88.27 L474.9 88.02 L475.4 88.05 L475.9 87.97 L476.4 87.38 L476.9 88.09 L477.4 87.91 L477.9 87.83 L478.4 87.09 L478.9 86.98 L479.4 87.13 L479.9 87.16 L480.4 87.29 L480.9 87.08 L481.4 87.16 L481.9 86.72 L482.4 86.92 L482.9 86.85 L483.4 86.45 L483.9 87.07 L484.4 86.63 L484.9 86.72 L485.4 86.08 L485.9 85.94 L486.4 85.96 L486.9 85.92 L487.4 86.04 L487.9 85.81 L488.4 85.5 L488.9 85.23 L489.4 85.25 L489.9 85.66 L490.4 84.93 L490.9 85.11 L491.4 85.02 L491.9 84.29 L492.4 84.57 L492.9 84.74 L493.4 83.51 L493.9 83.75 L494.4 83.52 L494.9 82.98 L495.4 83.02 L495.9 82.47 L496.4 81.62 L496.9 81.82 L497.4 81.21 L497.9 80.67 L498.4 80.12 L498.9 79.05 L499.4 78.1 L499.9 76.64 L500.4 76.04 L500.9 74.4 L501.4 73.08 L501.9 71.23 L502.4 69.52 L502.9 67.82 L503.4 66.68 L503.9 64.13 L504.4 62.82 L504.9 61.88 L505.4 60.77 L505.9 58.99 L506.4 56.62 L506.9 54.59 L507.4 53.41 L507.9 51 L508.4 48.91 L508.9 47.83 L509.4 46.46 L509.9 44.75 L510.4 43.51 L510.9 42.7 L511.4 42.82 L511.9 43.07 L512.4 44.28 L512.9 47.6 L513.4 56.28 L513.9 73.12 L514.4 96.46 L514.9 117.11 L515.4 124.6 L515.9 129.82 L516.4 133.02 L516.9 134.16 L517.4 135.2 L517.9 135.18 L518.4 133.69 L518.9 133.52 L519.4 131.86 L519.9 129.44 L520.4 126.87 L520.9 124.23 L521.4 121.36 L521.9 118.81 L522.4 115.29 L522.9 112.34 L523.4 109.74 L523.9 106.47 L524.4 103.35 L524.9 101.05 L525.4 98.25 L525.9 94.5 L526.4 90.7 L526.9 86.84 L527.4 81.99 L527.9 77.12 L528.4 73.36 L528.9 68.47 L529.4 65.09 L529.9 60.54 L530.4 57.34 L530.9 55.06 L531.4 52.92 L531.9 50.7 L532.4 48.66 L532.9 47.05 L533.4 45.94 L533.9 45.38 L534.4 44.56 L534.9 44.21 L535.4 43.96 L535.9 43.63 L536.4 43.99 L536.9 44.45 L537.4 45.72 L537.9 46.31 L538.4 47.56 L538.9 50.86 L539.4 55.57 L539.9 60.8 L540.4 65.48 L540.9 71.51 L541.4 77.72 L541.9 81.34 L542.4 86.8 L542.9 91.85 L543.4 94.71 L543.9 94.83 L544.4 93.95 L544.9 93.16 L545.4 91.71 L545.9 89.06 L546.4 86.28 L546.9 81.95 L547.4 79.13 L547.9 77.73 L548.4 76.41 L548.9 75.73 L549.4 75.23 L549.9 77.86 L550.4 81.54 L550.9 89.39 L551.4 100.3 L551.9 111.42 L552.4 121.74 L552.9 127.4 L553.4 130.06 L553.9 133.25 L554.4 134.88 L554.9 135.41 L555.4 135.1 L555.9 133.11 L556.4 133.08 L556.9 130.97 L557.4 130.18 L557.9 127.9 L558.4 126.24 L558.9 123.98 L559.4 120.76 L559.9 117.93 L560.4 115.21 L560.9 111.98 L561.4 108.67 L561.9 105.77 L562.4 102.17 L562.9 98.31 L563.4 95.8 L563.9 91.19 L564.4 88.35 L564.9 84.49 L565.4 81.08 L565.9 77.68 L566.4 73.92 L566.9 70.2 L567.4 65.56 L567.9 61.71 L568.4 58.88 L568.9 55.44 L569.4 52.53 L569.9 49.66 L570.4 48.05 L570.9 45.91 L571.4 44.72 L571.9 42.97 L572.4 42.3 L572.9 41.16 L573.4 41.15 L573.9 41.09 L574.4 40.39 L574.9 41.57 L575.4 42.15 L575.9 42.8 L576.4 43.44 L576.9 46.17 L577.4 48.6 L577.9 52.03 L578.4 56.13 L578.9 59.88 L579.4 64.42 L579.9 68.11 L580.4 73.11 L580.9 77.17 L581.4 81.05 L581.9 84.45 L582.4 87.97 L582.9 91.76 L583.4 94.1 L583.9 96.07 L584.4 98.19 L584.9 98.62 L585.4 97.65 L585.9 96.86 L586.4 94.51 L586.9 93.25 L587.4 90.06 L587.9 86.16 L588.4 83.33 L588.9 81.92 L589.4 80.43 L589.9 80.28 L590.4 80.54 L590.9 82.52 L591.4 84.79 L591.9 88.59 L592.4 93.09 L592.9 98.99 L593.4 102.86 L593.9 107.68 L594.4 111.9 L594.9 116.94 L595.4 119.75 L595.9 123.16 L596.4 125.96 L596.9 128.5 L597.4 130.27 L597.9 131.81 L598.4 133.37 L598.9 133.76 L599.4 134.54 L599.9 134.92 L600.4 134.32 L600.9 133.35 L601.4 132.61 L601.9 131.95 L602.4 129.87 L602.9 128.31 L603.4 126.25 L603.9 123.21 L604.4 119.81 L604.9 116.96 L605.4 113.8 L605.9 110.31 L606.4 107 L606.9 104.03 L607.4 101.24 L607.9 97.56 L608.4 94.2 L608.9 90.97 L609.4 87.45 L609.9 84.57 L610.4 80.93 L610.9 78.05 L611.4 73.88 L611.9 71.2 L612.4 67.27 L612.9 63.26 L613.4 60.61 L613.9 57.2 L614.4 53.88 L614.9 51.59 L615.4 49.39 L615.9 46.92 L616.4 45.5 L616.9 44.32 L617.4 43.38 L617.9 42.46 L618.4 42.1 L618.9 41.43 L619.4 41.16 L619.9 40.54 L620.4 41.96 L620.9 42.94 L621.4 43.54 L621.9 45.65 L622.4 50.12 L622.9 53.8 L623.4 59.97 L623.9 68.13 L624.4 76.34 L624.9 88.65 L625.4 102.32 L625.9 110.03 L626.4 116.59 L626.9 121.77 L627.4 125.07 L627.9 128.55 L628.4 131.61 L628.9 133.99 L629.4 134.79 L629.9 134.63 L630.4 133.86 L630.9 133.22 L631.4 132.55 L631.9 131.15 L632.4 129.67 L632.9 128.37 L633.4 127.78 L633.9 125.43 L634.4 123.27 L634.9 120.29 L635.4 119.36 L635.9 117.56 L636.4 116.21 L636.9 114.13 L637.4 112.3 L637.9 110.78 L638.4 108.33 L638.9 107.39 L639.4 105.32 L639.9 103.2 L640.4 102.17 L640.9 100.94 L641.4 98.8 L641.9 97.93 L642.4 97.2 L642.9 96.24 L643.4 95.22 L643.9 94.29 L644.4 94.56 L644.9 93.64 L645.4 92.42 L645.9 91.86 L646.4 92.31 L646.9 91.67 L647.4 91.55 L647.9 90.94 L648.4 90.18 L648.9 90.29 L649.4 89.34 L649.9 89.56 L650.4 89.58 L650.9 89.58 L651.4 89.04 L651.9 89.09 L652.4 89.14 L652.9 89.01 L653.4 89.01 L653.9 88.83 L654.4 88.61 L654.9 88.89 L655.4 88.61 L655.9 88.3 L656.4 88.32 L656.9 88.46 L657.4 88.39 L657.9 88.44 L658.4 88.36 L658.9 88.39 L659.4 88.28 L659.9 87.92 L660.4 88.42 L660.9 88.61 L661.4 88.42 L661.9 88.23 L662.4 88.42 L662.9 88 L663.4 87.72 L663.9 88.31 L664.4 88.01 L664.9 88.51 L665.4 87.96 L665.9 87.5 L666.4 87.98 L666.9 88.76 L667.4 88.18 L667.9 87.88 L668.4 88.06 L668.9 88.45 L669.4 88.44 L669.9 88.34 L670.4 88.74 L670.9 88.5 L671.4 88.28" fill="none" stroke="#dcc32a" stroke-width="1.65" stroke-linejoin="round"/>
<path d="M470.4 88.18 L470.9 88.5 L471.4 88.29 L471.9 88.3 L472.4 87.66 L472.9 87.93 L473.4 88.19 L473.9 87.87 L474.4 88.27 L474.9 88.11 L475.4 88.19 L475.9 87.84 L476.4 88.63 L476.9 88.17 L477.4 87.66 L477.9 87.66 L478.4 88.31 L478.9 87.31 L479.4 87.56 L479.9 87.47 L480.4 87.06 L480.9 86.6 L481.4 86.89 L481.9 86.84 L482.4 86.97 L482.9 86.76 L483.4 86.43 L483.9 86.57 L484.4 86.37 L484.9 86.15 L485.4 85.99 L485.9 85.79 L486.4 85.95 L486.9 85.3 L487.4 85.3 L487.9 85.36 L488.4 84.8 L488.9 84.98 L489.4 84.38 L489.9 84.64 L490.4 84.87 L490.9 84.72 L491.4 84.36 L491.9 84.12 L492.4 83.56 L492.9 84.3 L493.4 83.63 L493.9 83.49 L494.4 82.55 L494.9 82.38 L495.4 81.48 L495.9 81.81 L496.4 81.36 L496.9 79.93 L497.4 79.83 L497.9 79.31 L498.4 77.79 L498.9 76.89 L499.4 76.1 L499.9 75.02 L500.4 73.42 L500.9 72.37 L501.4 70.85 L501.9 69.09 L502.4 67.01 L502.9 65.12 L503.4 63.05 L503.9 60.5 L504.4 59.01 L504.9 57.15 L505.4 55.44 L505.9 53.96 L506.4 52.09 L506.9 50.09 L507.4 47.09 L507.9 44.76 L508.4 42.82 L508.9 40.78 L509.4 39.11 L509.9 37.52 L510.4 35.83 L510.9 35.26 L511.4 34.89 L511.9 35.39 L512.4 36.66 L512.9 40.66 L513.4 50.76 L513.9 69.92 L514.4 97.54 L514.9 121.29 L515.4 131.41 L515.9 137.01 L516.4 139.76 L516.9 142.36 L517.4 142.99 L517.9 142.77 L518.4 141.89 L518.9 140.48 L519.4 138.68 L519.9 136.31 L520.4 133.18 L520.9 130.22 L521.4 126.93 L521.9 123.29 L522.4 119.63 L522.9 116.4 L523.4 112.75 L523.9 109.19 L524.4 106.16 L524.9 102.73 L525.4 99.47 L525.9 95.89 L526.4 91.51 L526.9 87.39 L527.4 80.95 L527.9 75.75 L528.4 70.48 L528.9 65.93 L529.4 60.15 L529.9 56.21 L530.4 52.62 L530.9 49.56 L531.4 47.42 L531.9 44.32 L532.4 42.41 L532.9 40.45 L533.4 39.21 L533.9 38.27 L534.4 37.39 L534.9 37.02 L535.4 36.15 L535.9 36.65 L536.4 36.14 L536.9 37.12 L537.4 38.66 L537.9 39.23 L538.4 41.03 L538.9 45.2 L539.4 50.22 L539.9 55.73 L540.4 61.95 L540.9 68.82 L541.4 75.58 L541.9 80.9 L542.4 87.52 L542.9 92.9 L543.4 95.69 L543.9 95.96 L544.4 94.95 L544.9 94.21 L545.4 92.01 L545.9 89.61 L546.4 85 L546.9 80.62 L547.4 78.08 L547.9 76.47 L548.4 74.57 L548.9 73.52 L549.4 74.31 L549.9 76.34 L550.4 80.21 L550.9 90.49 L551.4 102.7 L551.9 114.81 L552.4 127.71 L552.9 133.4 L553.4 137.85 L553.9 140.67 L554.4 142.74 L554.9 142.52 L555.4 143.05 L555.9 141.92 L556.4 139.8 L556.9 138.14 L557.4 136.44 L557.9 135.38 L558.4 132.37 L558.9 129.5 L559.4 126.14 L559.9 122.78 L560.4 119.11 L560.9 115.9 L561.4 111.69 L561.9 108.16 L562.4 104.25 L562.9 100.26 L563.4 96.06 L563.9 91.85 L564.4 88.13 L564.9 83.86 L565.4 80.35 L565.9 75.96 L566.4 71.48 L566.9 66.88 L567.4 62.17 L567.9 57.61 L568.4 53.74 L568.9 50.47 L569.4 47.17 L569.9 44 L570.4 41.62 L570.9 38.47 L571.4 37.05 L571.9 36.68 L572.4 34.17 L572.9 33.65 L573.4 33.18 L573.9 32.82 L574.4 32.95 L574.9 33.26 L575.4 34.33 L575.9 35.4 L576.4 36.99 L576.9 38.19 L577.4 41.85 L577.9 46.29 L578.4 50.4 L578.9 54.77 L579.4 60.18 L579.9 64.98 L580.4 70.44 L580.9 75.08 L581.4 79.48 L581.9 84.08 L582.4 88.19 L582.9 91.6 L583.4 95.06 L583.9 97.5 L584.4 99.22 L584.9 100.44 L585.4 100.27 L585.9 98.2 L586.4 96.42 L586.9 94.39 L587.4 90.12 L587.9 86.11 L588.4 82.51 L588.9 81.08 L589.4 79.25 L589.9 78.81 L590.4 79.12 L590.9 81.25 L591.4 83.74 L591.9 87.59 L592.4 94.59 L592.9 100.77 L593.4 105.45 L593.9 111.54 L594.4 116.51 L594.9 121.5 L595.4 125.54 L595.9 128.53 L596.4 132.25 L596.9 135.66 L597.4 137.3 L597.9 138.67 L598.4 139.84 L598.9 140.95 L599.4 142.16 L599.9 142.84 L600.4 142.18 L600.9 141.37 L601.4 140.86 L601.9 138.69 L602.4 137.17 L602.9 135.35 L603.4 132.39 L603.9 128.45 L604.4 124.72 L604.9 121.56 L605.4 118.09 L605.9 114.02 L606.4 110.63 L606.9 106.75 L607.4 103.25 L607.9 99.3 L608.4 95.52 L608.9 91.63 L609.4 88.21 L609.9 84.46 L610.4 80.06 L610.9 76.53 L611.4 72.14 L611.9 68.33 L612.4 64.29 L612.9 60.3 L613.4 55.71 L613.9 52.18 L614.4 49.08 L614.9 45.42 L615.4 42.9 L615.9 40.07 L616.4 38.31 L616.9 36.49 L617.4 35.17 L617.9 34.83 L618.4 34.11 L618.9 33.33 L619.4 33.52 L619.9 33.33 L620.4 33.85 L620.9 35.17 L621.4 35.82 L621.9 38.6 L622.4 43.17 L622.9 49.01 L623.4 55.12 L623.9 64.09 L624.4 74.54 L624.9 88.6 L625.4 104.53 L625.9 113.51 L626.4 121.84 L626.9 126.85 L627.4 131.52 L627.9 135.34 L628.4 139.03 L628.9 140.94 L629.4 141.92 L629.9 142.6 L630.4 142.04 L630.9 141.02 L631.4 140.4 L631.9 138.32 L632.4 136.94 L632.9 135.62 L633.4 133.54 L633.9 131.73 L634.4 128.52 L634.9 126.43 L635.4 123.29 L635.9 122.53 L636.4 120.18 L636.9 118.59 L637.4 116.99 L637.9 114.37 L638.4 112.29 L638.9 110.09 L639.4 107.82 L639.9 105.78 L640.4 104.24 L640.9 102.46 L641.4 101.1 L641.9 99.76 L642.4 98.9 L642.9 97.69 L643.4 96.51 L643.9 95.87 L644.4 94.86 L644.9 93.87 L645.4 94.01 L645.9 93.11 L646.4 92.14 L646.9 92.26 L647.4 91.61 L647.9 90.67 L648.4 91.33 L648.9 90.67 L649.4 90.59 L649.9 90.14 L650.4 89.81 L650.9 89.19 L651.4 89.76 L651.9 89.32 L652.4 89.08 L652.9 89.16 L653.4 88.98 L653.9 89.09 L654.4 88.71 L654.9 88.75 L655.4 88.06 L655.9 88.51 L656.4 88.79 L656.9 88.94 L657.4 88.39 L657.9 88.42 L658.4 88.9 L658.9 88.29 L659.4 88.59 L659.9 88.86 L660.4 88.35 L660.9 88.71 L661.4 88.12 L661.9 88.4 L662.4 88.31 L662.9 88.37 L663.4 88.68 L663.9 89.05 L664.4 88.14 L664.9 88.17 L665.4 88.49 L665.9 88.02 L666.4 88.49 L666.9 88.51 L667.4 88.25 L667.9 88.5 L668.4 87.87 L668.9 88.57 L669.4 87.87 L669.9 88.13 L670.4 88.17 L670.9 88.22 L671.4 88.6" fill="none" stroke="#3d6fae" stroke-width="1.65" stroke-linejoin="round"/>
<path d="M470.4 88.02 L470.9 87.88 L471.4 88.16 L471.9 88.47 L472.4 87.99 L472.9 88.09 L473.4 88.34 L473.9 88.04 L474.4 87.57 L474.9 88.69 L475.4 88.59 L475.9 87.31 L476.4 87.86 L476.9 87.94 L477.4 88.03 L477.9 87.86 L478.4 87.48 L478.9 87.14 L479.4 87.38 L479.9 87.54 L480.4 86.8 L480.9 86.71 L481.4 86.91 L481.9 86.24 L482.4 86.64 L482.9 86.49 L483.4 86.66 L483.9 86.21 L484.4 86.06 L484.9 86.1 L485.4 86.09 L485.9 85.8 L486.4 85.89 L486.9 86 L487.4 86.01 L487.9 86.05 L488.4 85.18 L488.9 85.17 L489.4 84.43 L489.9 85.62 L490.4 84.7 L490.9 84.76 L491.4 84.77 L491.9 84.03 L492.4 84.39 L492.9 84.02 L493.4 83.22 L493.9 83.56 L494.4 83.51 L494.9 82.24 L495.4 82.65 L495.9 82.06 L496.4 81.67 L496.9 81.12 L497.4 80.77 L497.9 79.63 L498.4 79.21 L498.9 78 L499.4 77.39 L499.9 75.8 L500.4 74.73 L500.9 73.9 L501.4 72.03 L501.9 70.1 L502.4 67.84 L502.9 65.95 L503.4 64.4 L503.9 62.94 L504.4 61.17 L504.9 59.62 L505.4 57.85 L505.9 56.6 L506.4 54.31 L506.9 52.25 L507.4 50.46 L507.9 47.94 L508.4 45.69 L508.9 43.74 L509.4 42.3 L509.9 41.01 L510.4 39.55 L510.9 38.13 L511.4 38.38 L511.9 38.89 L512.4 39.89 L512.9 44.03 L513.4 53.86 L513.9 71.27 L514.4 97.14 L514.9 119.94 L515.4 128.32 L515.9 133.91 L516.4 136.51 L516.9 139.59 L517.4 139.35 L517.9 139.44 L518.4 138.02 L518.9 137.32 L519.4 136.28 L519.9 132.45 L520.4 130.12 L520.9 127.41 L521.4 124.29 L521.9 120.99 L522.4 118.6 L522.9 114.68 L523.4 110.86 L523.9 108.38 L524.4 104.49 L524.9 102.25 L525.4 98.52 L525.9 95.27 L526.4 91.78 L526.9 86.81 L527.4 81.08 L527.9 75.73 L528.4 71.94 L528.9 67.28 L529.4 62.38 L529.9 58.75 L530.4 55 L530.9 52.09 L531.4 48.72 L531.9 46.98 L532.4 45.29 L532.9 43.55 L533.4 42.38 L533.9 40.63 L534.4 40.78 L534.9 40.35 L535.4 40.59 L535.9 39.37 L536.4 39.7 L536.9 40.37 L537.4 41.54 L537.9 42.33 L538.4 44.42 L538.9 47.42 L539.4 52.75 L539.9 57.9 L540.4 63.62 L540.9 69.7 L541.4 75.71 L541.9 81.91 L542.4 87.15 L542.9 91.95 L543.4 95.25 L543.9 95.66 L544.4 94.33 L544.9 93.38 L545.4 92.11 L545.9 89.48 L546.4 85.23 L546.9 80.66 L547.4 78.89 L547.9 76.95 L548.4 75.45 L548.9 74.57 L549.4 75.05 L549.9 76.98 L550.4 80.32 L550.9 89.68 L551.4 101.25 L551.9 113.03 L552.4 124.14 L552.9 130.63 L553.4 134 L553.9 137.62 L554.4 138.89 L554.9 139.57 L555.4 139.38 L555.9 138.09 L556.4 136.55 L556.9 135.31 L557.4 133.78 L557.9 131.44 L558.4 129.43 L558.9 126.87 L559.4 123.61 L559.9 120.58 L560.4 117.61 L560.9 114.31 L561.4 110.82 L561.9 107.04 L562.4 103.02 L562.9 99.32 L563.4 95.52 L563.9 91.76 L564.4 88.02 L564.9 83.75 L565.4 80.31 L565.9 76.52 L566.4 72.3 L566.9 68.38 L567.4 64.2 L567.9 59.8 L568.4 56.69 L568.9 52.05 L569.4 49.62 L569.9 46.16 L570.4 44.35 L570.9 42.68 L571.4 39.61 L571.9 39.27 L572.4 38.36 L572.9 37.24 L573.4 36.86 L573.9 35.69 L574.4 36.67 L574.9 37 L575.4 37.72 L575.9 38.63 L576.4 40.28 L576.9 41.82 L577.4 45.17 L577.9 48.85 L578.4 52.47 L578.9 57.21 L579.4 61.87 L579.9 66.88 L580.4 71.14 L580.9 75.7 L581.4 80.13 L581.9 84.23 L582.4 88.58 L582.9 92.36 L583.4 94.34 L583.9 96.18 L584.4 98.9 L584.9 100.12 L585.4 99.54 L585.9 98.02 L586.4 95.51 L586.9 93.24 L587.4 90.41 L587.9 85.92 L588.4 82.37 L588.9 80.8 L589.4 80.48 L589.9 79.73 L590.4 79.68 L590.9 81.47 L591.4 84.09 L591.9 87.89 L592.4 94.15 L592.9 99.66 L593.4 104.48 L593.9 110.19 L594.4 114.51 L594.9 119.26 L595.4 122.99 L595.9 126.22 L596.4 129.52 L596.9 131.93 L597.4 133.7 L597.9 135 L598.4 136.47 L598.9 137.62 L599.4 138.53 L599.9 138.81 L600.4 138.7 L600.9 137.86 L601.4 136.55 L601.9 135.32 L602.4 133.52 L602.9 132.07 L603.4 129.49 L603.9 126.26 L604.4 122.63 L604.9 119.24 L605.4 116.34 L605.9 112.7 L606.4 109.44 L606.9 105.86 L607.4 102.19 L607.9 98.99 L608.4 94.88 L608.9 91.38 L609.4 87.66 L609.9 84.06 L610.4 81.14 L610.9 77.57 L611.4 73.39 L611.9 69.76 L612.4 65.98 L612.9 61.92 L613.4 58.28 L613.9 54.15 L614.4 51.36 L614.9 48.75 L615.4 46.26 L615.9 43.41 L616.4 41.18 L616.9 40.05 L617.4 38.97 L617.9 38.02 L618.4 38 L618.9 36.85 L619.4 36.82 L619.9 37.61 L620.4 37.9 L620.9 38.57 L621.4 39.47 L621.9 42.12 L622.4 46.58 L622.9 51.5 L623.4 57.69 L623.9 65.59 L624.4 75.75 L624.9 88.42 L625.4 103.11 L625.9 112.44 L626.4 118.54 L626.9 124.48 L627.4 128.76 L627.9 132.04 L628.4 135.33 L628.9 138.08 L629.4 139.6 L629.9 139.07 L630.4 138.4 L630.9 136.93 L631.4 136.83 L631.9 135.01 L632.4 133.67 L632.9 131.93 L633.4 130.45 L633.9 128.09 L634.4 126.25 L634.9 124.17 L635.4 121.97 L635.9 120.14 L636.4 117.93 L636.9 116.77 L637.4 114.3 L637.9 112.11 L638.4 110.73 L638.9 108.57 L639.4 106.46 L639.9 104.69 L640.4 103.1 L640.9 101.15 L641.4 100.19 L641.9 99.47 L642.4 98.14 L642.9 96.87 L643.4 96.04 L643.9 95.14 L644.4 94.44 L644.9 94.03 L645.4 93.18 L645.9 91.93 L646.4 92.13 L646.9 91.41 L647.4 91.47 L647.9 90.75 L648.4 90.7 L648.9 91.06 L649.4 89.85 L649.9 89.61 L650.4 89.31 L650.9 88.83 L651.4 88.81 L651.9 89.33 L652.4 88.9 L652.9 88.42 L653.4 88.45 L653.9 89.02 L654.4 88.54 L654.9 88.6 L655.4 88.75 L655.9 89.01 L656.4 89.13 L656.9 88.81 L657.4 88.51 L657.9 88.48 L658.4 88.93 L658.9 88.8 L659.4 88.25 L659.9 88.47 L660.4 88.41 L660.9 88.33 L661.4 88.17 L661.9 87.92 L662.4 88.16 L662.9 87.85 L663.4 88.68 L663.9 88.48 L664.4 87.95 L664.9 88.73 L665.4 88.58 L665.9 87.74 L666.4 88.87 L666.9 88.56 L667.4 88.94 L667.9 87.95 L668.4 88.48 L668.9 88.44 L669.4 88.38 L669.9 88.37 L670.4 88.63 L670.9 87.87 L671.4 87.94" fill="none" stroke="#a3a3d6" stroke-width="1.65" stroke-linejoin="round"/>
<path d="M470.4 87.79 L470.9 87.92 L471.4 87.9 L471.9 88.05 L472.4 88.02 L472.9 87.98 L473.4 87.86 L473.9 87.89 L474.4 88.08 L474.9 88.04 L475.4 87.92 L475.9 87.84 L476.4 88.07 L476.9 87.68 L477.4 87.77 L477.9 87.74 L478.4 87.4 L478.9 87.43 L479.4 87 L479.9 87.18 L480.4 86.92 L480.9 86.51 L481.4 86.72 L481.9 86.37 L482.4 86.57 L482.9 86.16 L483.4 86.11 L483.9 86.05 L484.4 85.82 L484.9 85.78 L485.4 85.52 L485.9 85.57 L486.4 85.33 L486.9 85.21 L487.4 84.62 L487.9 85.05 L488.4 84.73 L488.9 84.31 L489.4 84.44 L489.9 84.34 L490.4 84.26 L490.9 83.75 L491.4 83.94 L491.9 83.47 L492.4 83.61 L492.9 82.95 L493.4 82.74 L493.9 82.22 L494.4 81.7 L494.9 81.58 L495.4 81.06 L495.9 80.63 L496.4 79.94 L496.9 79.04 L497.4 78.11 L497.9 77.4 L498.4 76.44 L498.9 75.38 L499.4 74.38 L499.9 72.91 L500.4 71.21 L500.9 69.51 L501.4 67.59 L501.9 65.43 L502.4 63.03 L502.9 60.53 L503.4 57.95 L503.9 55.69 L504.4 54.09 L504.9 51.89 L505.4 50.01 L505.9 47.5 L506.4 45.45 L506.9 42.96 L507.4 39.93 L507.9 37.19 L508.4 34.66 L508.9 32.35 L509.4 30.49 L509.9 28.15 L510.4 26.32 L510.9 25.42 L511.4 25.16 L511.9 25.8 L512.4 27.29 L512.9 32.16 L513.4 45.01 L513.9 67.03 L514.4 99.2 L514.9 127.98 L515.4 139.42 L515.9 145.86 L516.4 149.46 L516.9 152.47 L517.4 153.26 L517.9 152.66 L518.4 151.7 L518.9 150.03 L519.4 148.26 L519.9 145.18 L520.4 141.57 L520.9 137.94 L521.4 133.93 L521.9 130.33 L522.4 126.15 L522.9 121.86 L523.4 117.64 L523.9 113.73 L524.4 109.51 L524.9 105.59 L525.4 101.37 L525.9 97.22 L526.4 92.5 L526.9 86.53 L527.4 79.83 L527.9 73.09 L528.4 67.25 L528.9 61.27 L529.4 56.04 L529.9 50.59 L530.4 45.87 L530.9 42.19 L531.4 39.02 L531.9 36.32 L532.4 33.75 L532.9 31.25 L533.4 30.06 L533.9 29.1 L534.4 28.07 L534.9 27.27 L535.4 26.91 L535.9 26.71 L536.4 27.04 L536.9 27.64 L537.4 28.55 L537.9 30.4 L538.4 32.17 L538.9 37.07 L539.4 43.1 L539.9 49.99 L540.4 56.95 L540.9 65.01 L541.4 73.25 L541.9 80 L542.4 86.89 L542.9 93.26 L543.4 96.86 L543.9 97.25 L544.4 96.3 L544.9 94.7 L545.4 93.08 L545.9 89.56 L546.4 84.52 L546.9 79.35 L547.4 75.69 L547.9 73.97 L548.4 72.31 L548.9 71.13 L549.4 71.36 L549.9 73.81 L550.4 78.7 L550.9 90.59 L551.4 105.04 L551.9 120.05 L552.4 134.41 L552.9 141.89 L553.4 146.65 L553.9 150.72 L554.4 152.92 L554.9 152.91 L555.4 152.45 L555.9 151.11 L556.4 149.71 L556.9 147.96 L557.4 145.74 L557.9 143.34 L558.4 140.86 L558.9 137.19 L559.4 133.47 L559.9 129.01 L560.4 125.36 L560.9 121.32 L561.4 116.84 L561.9 111.85 L562.4 107.16 L562.9 102.32 L563.4 97.77 L563.9 93.04 L564.4 88.11 L564.9 83.07 L565.4 78.51 L565.9 73.4 L566.4 68.59 L566.9 63.22 L567.4 57.93 L567.9 52.54 L568.4 47.51 L568.9 43.54 L569.4 39.76 L569.9 35.64 L570.4 32.44 L570.9 29.81 L571.4 27.89 L571.9 26.35 L572.4 24.76 L572.9 23.67 L573.4 23.1 L573.9 22.7 L574.4 23.09 L574.9 23.18 L575.4 24.52 L575.9 25.85 L576.4 27.11 L576.9 29.6 L577.4 33.72 L577.9 38.56 L578.4 43.85 L578.9 49.11 L579.4 54.73 L579.9 61.05 L580.4 66.89 L580.9 72.36 L581.4 77.89 L581.9 83.09 L582.4 88.31 L582.9 93 L583.4 96.37 L583.9 99.06 L584.4 101.58 L584.9 102.7 L585.4 102.42 L585.9 100.19 L586.4 97.83 L586.9 94.82 L587.4 90.59 L587.9 85.98 L588.4 81.43 L588.9 79.53 L589.4 77.63 L589.9 77.02 L590.4 77.58 L590.9 80.19 L591.4 83.18 L591.9 88.13 L592.4 95.27 L592.9 103.16 L593.4 109.3 L593.9 115.52 L594.4 121.69 L594.9 127.55 L595.4 132.35 L595.9 136.53 L596.4 140.7 L596.9 143.82 L597.4 146.62 L597.9 148.55 L598.4 149.68 L598.9 151.26 L599.4 152.25 L599.9 152.1 L600.4 151.8 L600.9 150.92 L601.4 149.48 L601.9 148.24 L602.4 146.15 L602.9 143.92 L603.4 140.56 L603.9 135.99 L604.4 131.83 L604.9 127.32 L605.4 123.64 L605.9 119.15 L606.4 114.82 L606.9 110.39 L607.4 105.97 L607.9 101.36 L608.4 96.93 L608.9 92.34 L609.4 87.9 L609.9 83.14 L610.4 78.74 L610.9 73.83 L611.4 69.43 L611.9 64.98 L612.4 59.69 L612.9 54.49 L613.4 49.97 L613.9 45.49 L614.4 41.62 L614.9 38.04 L615.4 34.73 L615.9 31.58 L616.4 29.05 L616.9 27.3 L617.4 26.02 L617.9 25.26 L618.4 24.17 L618.9 23.35 L619.4 22.89 L619.9 23.19 L620.4 24.5 L620.9 25.13 L621.4 26.79 L621.9 29.81 L622.4 34.93 L622.9 41.52 L623.4 48.94 L623.9 59.44 L624.4 72.56 L624.9 88.49 L625.4 107.09 L625.9 118.18 L626.4 127.16 L626.9 134.24 L627.4 139.66 L627.9 143.8 L628.4 148.12 L628.9 151.15 L629.4 152.44 L629.9 152.48 L630.4 151.54 L630.9 150.4 L631.4 149.08 L631.9 147.06 L632.4 145.81 L632.9 143.88 L633.4 141.54 L633.9 139.09 L634.4 136.5 L634.9 133.55 L635.4 131.18 L635.9 128.4 L636.4 126.01 L636.9 124.1 L637.4 121.6 L637.9 119.35 L638.4 116.72 L638.9 114.44 L639.4 111.79 L639.9 109.36 L640.4 107 L640.9 105.28 L641.4 103.39 L641.9 101.83 L642.4 100.35 L642.9 99.46 L643.4 98.01 L643.9 96.92 L644.4 96.03 L644.9 95.29 L645.4 94.4 L645.9 93.84 L646.4 93.14 L646.9 92.57 L647.4 92 L647.9 91.72 L648.4 91.3 L648.9 91.06 L649.4 90.78 L649.9 90.51 L650.4 89.87 L650.9 89.88 L651.4 89.62 L651.9 89.66 L652.4 89.15 L652.9 89.14 L653.4 89.09 L653.9 89 L654.4 89.12 L654.9 88.83 L655.4 88.97 L655.9 88.54 L656.4 88.42 L656.9 88.82 L657.4 88.65 L657.9 88.61 L658.4 88.52 L658.9 88.54 L659.4 88.25 L659.9 88.56 L660.4 88.32 L660.9 88.55 L661.4 88.41 L661.9 88.1 L662.4 88.21 L662.9 88.57 L663.4 88.38 L663.9 88.34 L664.4 88.44 L664.9 88.34 L665.4 88.32 L665.9 88.42 L666.4 88.42 L666.9 88.63 L667.4 88.41 L667.9 88.68 L668.4 88.67 L668.9 88.66 L669.4 88.56 L669.9 88.42 L670.4 88.42 L670.9 88.38 L671.4 88.29" fill="none" stroke="#d8363f" stroke-width="1.65" stroke-linejoin="round"/>
<rect x="469.7" y="0.8" width="202.9" height="175" fill="none" stroke="#000" stroke-width="1.6"/>
<line x1="485.1" y1="175.1" x2="485.1" y2="173.5" stroke="#000" stroke-width="1.2" stroke-linecap="butt"/>
<line x1="547.8" y1="175.1" x2="547.8" y2="173.5" stroke="#000" stroke-width="1.2" stroke-linecap="butt"/>
<line x1="610.5" y1="175.1" x2="610.5" y2="173.5" stroke="#000" stroke-width="1.2" stroke-linecap="butt"/>
<line x1="516.45" y1="175.1" x2="516.45" y2="174.1" stroke="#000" stroke-width="1" stroke-linecap="butt"/>
<line x1="579.15" y1="175.1" x2="579.15" y2="174.1" stroke="#000" stroke-width="1" stroke-linecap="butt"/>
<line x1="641.85" y1="175.1" x2="641.85" y2="174.1" stroke="#000" stroke-width="1" stroke-linecap="butt"/>
<text x="485.1" y="187.9" font-size="11.3" font-weight="bold" fill="#000" text-anchor="middle">3480</text>
<text x="547.8" y="187.9" font-size="11.3" font-weight="bold" fill="#000" text-anchor="middle">3500</text>
<text x="610.5" y="187.9" font-size="11.3" font-weight="bold" fill="#000" text-anchor="middle">3520</text>
<text x="673.2" y="187.9" font-size="11.3" font-weight="bold" fill="#000" text-anchor="middle">3540</text>
<text x="473.7" y="19.3" font-size="19" font-weight="bold" fill="#000" text-anchor="start">c</text>
<text x="571.15" y="199" font-size="13.25" font-weight="bold" fill="#000" text-anchor="middle">Magnetic field (Gauss)</text>
<text x="0" y="0" font-size="13.25" font-weight="bold" fill="#000" text-anchor="middle" transform="translate(464.3,88.6) rotate(-90)">Intensity (arb.units)</text>
<line x1="170.5" y1="9.2" x2="192.4" y2="9.2" stroke="#dcc32a" stroke-width="1.6" stroke-linecap="butt"/>
<text x="195.8" y="12.65" font-size="9.8" font-weight="bold" fill="#000" text-anchor="start">CN</text>
<line x1="170.5" y1="21.8" x2="192.4" y2="21.8" stroke="#3d6fae" stroke-width="1.6" stroke-linecap="butt"/>
<text x="195.8" y="25.25" font-size="9.8" font-weight="bold" fill="#000" text-anchor="start">MC</text>
<line x1="170.5" y1="34.5" x2="192.4" y2="34.5" stroke="#a3a3d6" stroke-width="1.6" stroke-linecap="butt"/>
<text x="195.8" y="37.95" font-size="9.8" font-weight="bold" fill="#000" text-anchor="start">CNIr</text>
<line x1="170.5" y1="47.1" x2="192.4" y2="47.1" stroke="#d8363f" stroke-width="1.6" stroke-linecap="butt"/>
<text x="195.8" y="50.55" font-size="9.8" font-weight="bold" fill="#000" text-anchor="start">MCIr</text>
<line x1="401.2" y1="7.3" x2="420.8" y2="7.3" stroke="#d8363f" stroke-width="1.6" stroke-linecap="butt"/>
<text x="423.9" y="10.75" font-size="9.3" font-weight="bold" fill="#000" text-anchor="start">CN</text>
<line x1="401.2" y1="18.7" x2="420.8" y2="18.7" stroke="#a3a3d6" stroke-width="1.6" stroke-linecap="butt"/>
<text x="423.9" y="22.15" font-size="9.3" font-weight="bold" fill="#000" text-anchor="start">MC</text>
<line x1="401.2" y1="30.5" x2="420.8" y2="30.5" stroke="#3d6fae" stroke-width="1.6" stroke-linecap="butt"/>
<text x="423.9" y="33.95" font-size="9.3" font-weight="bold" fill="#000" text-anchor="start">CNIr</text>
<line x1="401.2" y1="42.2" x2="420.8" y2="42.2" stroke="#dcc32a" stroke-width="1.6" stroke-linecap="butt"/>
<text x="423.9" y="45.65" font-size="9.3" font-weight="bold" fill="#000" text-anchor="start">MCIr</text>
<line x1="623.9" y1="8" x2="646.2" y2="8" stroke="#dcc32a" stroke-width="1.6" stroke-linecap="butt"/>
<text x="649.4" y="11.45" font-size="9.8" font-weight="bold" fill="#000" text-anchor="start">CN</text>
<line x1="623.9" y1="20.5" x2="646.2" y2="20.5" stroke="#3d6fae" stroke-width="1.6" stroke-linecap="butt"/>
<text x="649.4" y="23.95" font-size="9.8" font-weight="bold" fill="#000" text-anchor="start">MC</text>
<line x1="623.9" y1="32.9" x2="646.2" y2="32.9" stroke="#a3a3d6" stroke-width="1.6" stroke-linecap="butt"/>
<text x="649.4" y="36.35" font-size="9.8" font-weight="bold" fill="#000" text-anchor="start">CNIr</text>
<line x1="623.9" y1="45.2" x2="646.2" y2="45.2" stroke="#d8363f" stroke-width="1.6" stroke-linecap="butt"/>
<text x="649.4" y="48.65" font-size="9.8" font-weight="bold" fill="#000" text-anchor="start">MCIr</text>
<line x1="27.2" y1="140.3" x2="30.4" y2="129.1" stroke="#ea2a0c" stroke-width="1.4" stroke-linecap="butt"/>
<line x1="30.4" y1="129.1" x2="42.6" y2="129.1" stroke="#ea2a0c" stroke-width="1.4" stroke-linecap="butt"/>
<line x1="42.6" y1="129.1" x2="45.4" y2="139.8" stroke="#ea2a0c" stroke-width="1.4" stroke-linecap="butt"/>
<line x1="27.2" y1="140.3" x2="19.5" y2="135.7" stroke="#ea2a0c" stroke-width="1.4" stroke-linecap="butt"/>
<line x1="27.2" y1="140.3" x2="19.9" y2="146.2" stroke="#ea2a0c" stroke-width="1.4" stroke-linecap="butt"/>
<line x1="45.4" y1="139.8" x2="54.9" y2="136.9" stroke="#ea2a0c" stroke-width="1.4" stroke-linecap="butt"/>
<line x1="45.4" y1="139.8" x2="53.5" y2="147.5" stroke="#ea2a0c" stroke-width="1.4" stroke-linecap="butt"/>
<line x1="27.2" y1="140.3" x2="34.2" y2="144.6" stroke="#ea2a0c" stroke-width="1.4" stroke-linecap="butt"/>
<line x1="45.4" y1="139.8" x2="38.6" y2="144.4" stroke="#ea2a0c" stroke-width="1.4" stroke-linecap="butt"/>
<text x="36.4" y="149.4" font-size="6.4" font-weight="bold" fill="#ea2a0c" text-anchor="middle">N</text>
<line x1="35.3" y1="141.3" x2="37.7" y2="141.3" stroke="#ea2a0c" stroke-width="0.75" stroke-linecap="butt"/>
<line x1="36.5" y1="140.1" x2="36.5" y2="142.5" stroke="#ea2a0c" stroke-width="0.75" stroke-linecap="butt"/>
<line x1="34.8" y1="150" x2="34.8" y2="154.6" stroke="#ea2a0c" stroke-width="1.1" stroke-linecap="butt"/>
<line x1="38.1" y1="150" x2="38.1" y2="154.6" stroke="#ea2a0c" stroke-width="1.1" stroke-linecap="butt"/>
<text x="36.4" y="160.8" font-size="6.2" font-weight="bold" fill="#ea2a0c" text-anchor="middle">O</text>
<text x="18.4" y="171.8" font-size="9" font-weight="bold" fill="#000" text-anchor="start">TEMPO-h</text>
<circle cx="60.9" cy="165.6" r="1.15" fill="#333"/>
<line x1="257.5" y1="137.4" x2="260.5" y2="126.5" stroke="#ea2a0c" stroke-width="1.3" stroke-linecap="butt"/>
<line x1="260.5" y1="126.5" x2="272.3" y2="126.5" stroke="#ea2a0c" stroke-width="1.3" stroke-linecap="butt"/>
<line x1="272.3" y1="126.5" x2="275.3" y2="137.1" stroke="#ea2a0c" stroke-width="1.3" stroke-linecap="butt"/>
<line x1="257.5" y1="137.4" x2="250.3" y2="132.6" stroke="#ea2a0c" stroke-width="1.3" stroke-linecap="butt"/>
<line x1="257.5" y1="137.4" x2="250.7" y2="142.8" stroke="#ea2a0c" stroke-width="1.3" stroke-linecap="butt"/>
<line x1="257.5" y1="137.4" x2="264.3" y2="141.8" stroke="#ea2a0c" stroke-width="1.3" stroke-linecap="butt"/>
<line x1="275.3" y1="137.1" x2="268.8" y2="141.6" stroke="#ea2a0c" stroke-width="1.3" stroke-linecap="butt"/>
<line x1="275.3" y1="137.1" x2="281.6" y2="134.6" stroke="#ea2a0c" stroke-width="1.3" stroke-linecap="butt"/>
<line x1="275.3" y1="137.1" x2="280.3" y2="141.8" stroke="#ea2a0c" stroke-width="1.3" stroke-linecap="butt"/>
<text x="266.5" y="146.2" font-size="6.6" font-weight="bold" fill="#ea2a0c" text-anchor="middle">N</text>
<text x="285.1" y="136.6" font-size="6.8" font-weight="bold" fill="#ea2a0c" text-anchor="middle">H</text>
<text x="285.6" y="146.6" font-size="6.8" font-weight="bold" fill="#ea2a0c" text-anchor="middle">OH</text>
<line x1="266.5" y1="147.6" x2="266.5" y2="151.8" stroke="#ea2a0c" stroke-width="1.1" stroke-linecap="butt"/>
<text x="266.6" y="157.4" font-size="6.6" font-weight="bold" fill="#ea2a0c" text-anchor="middle">O</text>
<circle cx="266.5" cy="159.4" r="0.75" fill="#ea2a0c"/>
<text x="246" y="170.8" font-size="9.3" font-weight="bold" fill="#000" text-anchor="start">DMPO-</text>
<circle cx="277.7" cy="165.1" r="1.1" fill="#000"/>
<text x="279.3" y="170.8" font-size="9.3" font-weight="bold" fill="#000" text-anchor="start">OH</text>
<line x1="479.4" y1="133.9" x2="482.5" y2="122.5" stroke="#ff0000" stroke-width="1.6" stroke-linecap="butt"/>
<line x1="482.5" y1="122.5" x2="494.8" y2="122.5" stroke="#ff0000" stroke-width="1.6" stroke-linecap="butt"/>
<line x1="494.8" y1="122.5" x2="498.5" y2="133.9" stroke="#ff0000" stroke-width="1.6" stroke-linecap="butt"/>
<line x1="479.4" y1="133.9" x2="471.6" y2="129.4" stroke="#ff0000" stroke-width="1.6" stroke-linecap="butt"/>
<line x1="479.4" y1="133.9" x2="472.1" y2="139.8" stroke="#ff0000" stroke-width="1.6" stroke-linecap="butt"/>
<line x1="479.4" y1="133.9" x2="486.4" y2="138.6" stroke="#ff0000" stroke-width="1.6" stroke-linecap="butt"/>
<line x1="498.5" y1="133.9" x2="491.2" y2="138.6" stroke="#ff0000" stroke-width="1.6" stroke-linecap="butt"/>
<line x1="498.5" y1="133.9" x2="504.6" y2="131.4" stroke="#ff0000" stroke-width="1.6" stroke-linecap="butt"/>
<line x1="498.5" y1="133.9" x2="503.6" y2="139" stroke="#ff0000" stroke-width="1.6" stroke-linecap="butt"/>
<text x="488.7" y="143.4" font-size="6.8" font-weight="bold" fill="#ff0000" text-anchor="middle">N</text>
<text x="507.9" y="133" font-size="6.8" font-weight="bold" fill="#ff0000" text-anchor="middle">H</text>
<text x="503.4" y="144.3" font-size="6.8" font-weight="bold" fill="#ff0000" text-anchor="start">O</text>
<text x="508.4" y="145.6" font-size="5.2" font-weight="bold" fill="#ff0000" text-anchor="start">2</text>
<line x1="505.6" y1="137.1" x2="508.9" y2="137.1" stroke="#ff0000" stroke-width="0.8" stroke-linecap="butt"/>
<circle cx="511.5" cy="136.9" r="0.75" fill="#ff0000"/>
<line x1="488.8" y1="144.6" x2="488.8" y2="148.4" stroke="#ff0000" stroke-width="1.2" stroke-linecap="butt"/>
<text x="488.9" y="155.2" font-size="6.8" font-weight="bold" fill="#ff0000" text-anchor="middle">O</text>
<circle cx="488.9" cy="157.5" r="0.75" fill="#ff0000"/>
<text x="474" y="169" font-size="9" font-weight="bold" fill="#000" text-anchor="start">DMPO-O</text>
<text x="510.5" y="171.8" font-size="6.3" font-weight="bold" fill="#000" text-anchor="start">2</text>
<circle cx="516.3" cy="163.7" r="1.1" fill="#000"/>
<line x1="517.6" y1="163.8" x2="520.9" y2="163.8" stroke="#000" stroke-width="1" stroke-linecap="butt"/>
<rect x="22.2" y="241.75" width="6.55" height="140.85" fill="#e2d05e" stroke="#7a7045" stroke-width="0.7"/>
<rect x="29.35" y="241.6" width="6.55" height="141" fill="#4775a9" stroke="#28435f" stroke-width="0.7"/>
<rect x="36.5" y="241.6" width="6.55" height="141" fill="#a2a1c4" stroke="#5d5c72" stroke-width="0.7"/>
<rect x="43.65" y="242.35" width="6.55" height="140.25" fill="#d6474b" stroke="#7a2a2c" stroke-width="0.7"/>
<rect x="63.25" y="247.6" width="6.55" height="135" fill="#e2d05e" stroke="#7a7045" stroke-width="0.7"/>
<rect x="70.4" y="255.85" width="6.55" height="126.75" fill="#4775a9" stroke="#28435f" stroke-width="0.7"/>
<rect x="77.55" y="252.25" width="6.55" height="130.35" fill="#a2a1c4" stroke="#5d5c72" stroke-width="0.7"/>
<rect x="84.7" y="259.75" width="6.55" height="122.85" fill="#d6474b" stroke="#7a2a2c" stroke-width="0.7"/>
<rect x="104.3" y="256.75" width="6.55" height="125.85" fill="#e2d05e" stroke="#7a7045" stroke-width="0.7"/>
<rect x="111.45" y="262.75" width="6.55" height="119.85" fill="#4775a9" stroke="#28435f" stroke-width="0.7"/>
<rect x="118.6" y="260.35" width="6.55" height="122.25" fill="#a2a1c4" stroke="#5d5c72" stroke-width="0.7"/>
<rect x="125.75" y="269.05" width="6.55" height="113.55" fill="#d6474b" stroke="#7a2a2c" stroke-width="0.7"/>
<rect x="145.35" y="266.95" width="6.55" height="115.65" fill="#e2d05e" stroke="#7a7045" stroke-width="0.7"/>
<rect x="152.5" y="276.85" width="6.55" height="105.75" fill="#4775a9" stroke="#28435f" stroke-width="0.7"/>
<rect x="159.65" y="273.25" width="6.55" height="109.35" fill="#a2a1c4" stroke="#5d5c72" stroke-width="0.7"/>
<rect x="166.8" y="279.25" width="6.55" height="103.35" fill="#d6474b" stroke="#7a2a2c" stroke-width="0.7"/>
<rect x="186.4" y="267.85" width="6.55" height="114.75" fill="#e2d05e" stroke="#7a7045" stroke-width="0.7"/>
<rect x="193.55" y="285.55" width="6.55" height="97.05" fill="#4775a9" stroke="#28435f" stroke-width="0.7"/>
<rect x="200.7" y="281.5" width="6.55" height="101.1" fill="#a2a1c4" stroke="#5d5c72" stroke-width="0.7"/>
<rect x="207.85" y="289.6" width="6.55" height="93" fill="#d6474b" stroke="#7a2a2c" stroke-width="0.7"/>
<rect x="16" y="209.4" width="205.4" height="173.1" fill="none" stroke="#000" stroke-width="1.85"/>
<line x1="16.8" y1="382.3" x2="18.9" y2="382.3" stroke="#000" stroke-width="1.6" stroke-linecap="butt"/>
<text x="0" y="0" font-size="8.5" font-weight="bold" fill="#000" text-anchor="end" transform="translate(12.8,385.5) scale(1,1.15)">0</text>
<line x1="16.8" y1="367.3" x2="17.7" y2="367.3" stroke="#000" stroke-width="0.9" stroke-linecap="butt"/>
<line x1="16.8" y1="352.3" x2="18.9" y2="352.3" stroke="#000" stroke-width="1.6" stroke-linecap="butt"/>
<text x="0" y="0" font-size="8.5" font-weight="bold" fill="#000" text-anchor="end" transform="translate(12.8,355.5) scale(1,1.15)">2</text>
<line x1="16.8" y1="337.3" x2="17.7" y2="337.3" stroke="#000" stroke-width="0.9" stroke-linecap="butt"/>
<line x1="16.8" y1="322.3" x2="18.9" y2="322.3" stroke="#000" stroke-width="1.6" stroke-linecap="butt"/>
<text x="0" y="0" font-size="8.5" font-weight="bold" fill="#000" text-anchor="end" transform="translate(12.8,325.5) scale(1,1.15)">4</text>
<line x1="16.8" y1="307.3" x2="17.7" y2="307.3" stroke="#000" stroke-width="0.9" stroke-linecap="butt"/>
<line x1="16.8" y1="292.3" x2="18.9" y2="292.3" stroke="#000" stroke-width="1.6" stroke-linecap="butt"/>
<text x="0" y="0" font-size="8.5" font-weight="bold" fill="#000" text-anchor="end" transform="translate(12.8,295.5) scale(1,1.15)">6</text>
<line x1="16.8" y1="277.3" x2="17.7" y2="277.3" stroke="#000" stroke-width="0.9" stroke-linecap="butt"/>
<line x1="16.8" y1="262.3" x2="18.9" y2="262.3" stroke="#000" stroke-width="1.6" stroke-linecap="butt"/>
<text x="0" y="0" font-size="8.5" font-weight="bold" fill="#000" text-anchor="end" transform="translate(12.8,265.5) scale(1,1.15)">8</text>
<line x1="16.8" y1="247.3" x2="17.7" y2="247.3" stroke="#000" stroke-width="0.9" stroke-linecap="butt"/>
<line x1="16.8" y1="232.3" x2="18.9" y2="232.3" stroke="#000" stroke-width="1.6" stroke-linecap="butt"/>
<text x="0" y="0" font-size="8.5" font-weight="bold" fill="#000" text-anchor="end" transform="translate(12.8,235.5) scale(1,1.15)">10</text>
<line x1="36.2" y1="381.7" x2="36.2" y2="379.9" stroke="#000" stroke-width="1.2" stroke-linecap="butt"/>
<line x1="56.73" y1="381.7" x2="56.73" y2="380.6" stroke="#000" stroke-width="1" stroke-linecap="butt"/>
<text x="0" y="0" font-size="9.6" font-weight="bold" fill="#000" text-anchor="end" transform="translate(51,389.3) rotate(-30)">Dark</text>
<line x1="77.25" y1="381.7" x2="77.25" y2="379.9" stroke="#000" stroke-width="1.2" stroke-linecap="butt"/>
<line x1="97.78" y1="381.7" x2="97.78" y2="380.6" stroke="#000" stroke-width="1" stroke-linecap="butt"/>
<text x="0" y="0" font-size="9.6" font-weight="bold" fill="#000" text-anchor="end" transform="translate(92.05,389.3) rotate(-30)">Light-5 min</text>
<line x1="118.3" y1="381.7" x2="118.3" y2="379.9" stroke="#000" stroke-width="1.2" stroke-linecap="butt"/>
<line x1="138.82" y1="381.7" x2="138.82" y2="380.6" stroke="#000" stroke-width="1" stroke-linecap="butt"/>
<text x="0" y="0" font-size="9.6" font-weight="bold" fill="#000" text-anchor="end" transform="translate(133.1,389.3) rotate(-30)">Light-10 min</text>
<line x1="159.35" y1="381.7" x2="159.35" y2="379.9" stroke="#000" stroke-width="1.2" stroke-linecap="butt"/>
<line x1="179.88" y1="381.7" x2="179.88" y2="380.6" stroke="#000" stroke-width="1" stroke-linecap="butt"/>
<text x="0" y="0" font-size="9.6" font-weight="bold" fill="#000" text-anchor="end" transform="translate(174.15,389.3) rotate(-30)">Light-15 min</text>
<line x1="200.4" y1="381.7" x2="200.4" y2="379.9" stroke="#000" stroke-width="1.2" stroke-linecap="butt"/>
<line x1="220.93" y1="381.7" x2="220.93" y2="380.6" stroke="#000" stroke-width="1" stroke-linecap="butt"/>
<text x="0" y="0" font-size="9.6" font-weight="bold" fill="#000" text-anchor="end" transform="translate(215.2,389.3) rotate(-30)">Light-20 min</text>
<text x="21.6" y="227.7" font-size="19.5" font-weight="bold" fill="#000" text-anchor="start">d</text>
<text x="0" y="0" font-size="9.1" font-weight="bold" fill="#000" text-anchor="middle" transform="translate(7,295.8) scale(1,1.1) rotate(-90)">Spins (E^18 counts)</text>
<rect x="169.4" y="212.7" width="21.6" height="10.4" fill="#e2d05e" stroke="#7a7045" stroke-width="0.7"/>
<text x="0" y="0" font-size="9.9" font-weight="bold" fill="#000" text-anchor="start" transform="translate(194.1,220.9) scale(1,1.1)">CN</text>
<rect x="169.4" y="224.9" width="21.6" height="10.4" fill="#4775a9" stroke="#28435f" stroke-width="0.7"/>
<text x="0" y="0" font-size="9.9" font-weight="bold" fill="#000" text-anchor="start" transform="translate(194.1,233.1) scale(1,1.1)">MC</text>
<rect x="169.4" y="237.1" width="21.6" height="10.4" fill="#a2a1c4" stroke="#5d5c72" stroke-width="0.7"/>
<text x="0" y="0" font-size="9.9" font-weight="bold" fill="#000" text-anchor="start" transform="translate(194.1,245.3) scale(1,1.1)">CNIr</text>
<rect x="169.4" y="249.3" width="21.6" height="10.4" fill="#d6474b" stroke="#7a2a2c" stroke-width="0.7"/>
<text x="0" y="0" font-size="9.9" font-weight="bold" fill="#000" text-anchor="start" transform="translate(194.1,257.5) scale(1,1.1)">MCIr</text>
<rect x="288.37" y="341.65" width="6.6" height="41.05" fill="#e2d05e" stroke="#7a7045" stroke-width="0.7"/>
<rect x="295.57" y="339.43" width="6.6" height="43.27" fill="#4775a9" stroke="#28435f" stroke-width="0.7"/>
<rect x="302.77" y="336.74" width="6.6" height="45.96" fill="#a2a1c4" stroke="#5d5c72" stroke-width="0.7"/>
<rect x="309.97" y="321.36" width="6.6" height="61.34" fill="#d6474b" stroke="#7a2a2c" stroke-width="0.7"/>
<rect x="329.64" y="321.68" width="6.6" height="61.02" fill="#e2d05e" stroke="#7a7045" stroke-width="0.7"/>
<rect x="336.84" y="307.89" width="6.6" height="74.81" fill="#4775a9" stroke="#28435f" stroke-width="0.7"/>
<rect x="344.04" y="317.71" width="6.6" height="64.99" fill="#a2a1c4" stroke="#5d5c72" stroke-width="0.7"/>
<rect x="351.24" y="301.07" width="6.6" height="81.63" fill="#d6474b" stroke="#7a2a2c" stroke-width="0.7"/>
<rect x="370.91" y="297.74" width="6.6" height="84.96" fill="#e2d05e" stroke="#7a7045" stroke-width="0.7"/>
<rect x="378.11" y="289.5" width="6.6" height="93.2" fill="#4775a9" stroke="#28435f" stroke-width="0.7"/>
<rect x="385.31" y="293.62" width="6.6" height="89.08" fill="#a2a1c4" stroke="#5d5c72" stroke-width="0.7"/>
<rect x="392.51" y="282.53" width="6.6" height="100.17" fill="#d6474b" stroke="#7a2a2c" stroke-width="0.7"/>
<rect x="412.18" y="277.61" width="6.6" height="105.09" fill="#e2d05e" stroke="#7a7045" stroke-width="0.7"/>
<rect x="419.38" y="265.73" width="6.6" height="116.97" fill="#4775a9" stroke="#28435f" stroke-width="0.7"/>
<rect x="426.58" y="273.33" width="6.6" height="109.37" fill="#a2a1c4" stroke="#5d5c72" stroke-width="0.7"/>
<rect x="433.78" y="246.87" width="6.6" height="135.83" fill="#d6474b" stroke="#7a2a2c" stroke-width="0.7"/>
<rect x="240.6" y="208.8" width="206.7" height="173.8" fill="none" stroke="#000" stroke-width="1.85"/>
<line x1="241.4" y1="382.4" x2="243.5" y2="382.4" stroke="#000" stroke-width="1.6" stroke-linecap="butt"/>
<text x="0" y="0" font-size="8.5" font-weight="bold" fill="#000" text-anchor="end" transform="translate(237.7,385.6) scale(1,1.15)">0</text>
<line x1="241.4" y1="366.55" x2="242.3" y2="366.55" stroke="#000" stroke-width="0.9" stroke-linecap="butt"/>
<line x1="241.4" y1="350.7" x2="243.5" y2="350.7" stroke="#000" stroke-width="1.6" stroke-linecap="butt"/>
<text x="0" y="0" font-size="8.5" font-weight="bold" fill="#000" text-anchor="end" transform="translate(237.7,353.9) scale(1,1.15)">2</text>
<line x1="241.4" y1="334.85" x2="242.3" y2="334.85" stroke="#000" stroke-width="0.9" stroke-linecap="butt"/>
<line x1="241.4" y1="319" x2="243.5" y2="319" stroke="#000" stroke-width="1.6" stroke-linecap="butt"/>
<text x="0" y="0" font-size="8.5" font-weight="bold" fill="#000" text-anchor="end" transform="translate(237.7,322.2) scale(1,1.15)">4</text>
<line x1="241.4" y1="303.15" x2="242.3" y2="303.15" stroke="#000" stroke-width="0.9" stroke-linecap="butt"/>
<line x1="241.4" y1="287.3" x2="243.5" y2="287.3" stroke="#000" stroke-width="1.6" stroke-linecap="butt"/>
<text x="0" y="0" font-size="8.5" font-weight="bold" fill="#000" text-anchor="end" transform="translate(237.7,290.5) scale(1,1.15)">6</text>
<line x1="241.4" y1="271.45" x2="242.3" y2="271.45" stroke="#000" stroke-width="0.9" stroke-linecap="butt"/>
<line x1="241.4" y1="255.6" x2="243.5" y2="255.6" stroke="#000" stroke-width="1.6" stroke-linecap="butt"/>
<text x="0" y="0" font-size="8.5" font-weight="bold" fill="#000" text-anchor="end" transform="translate(237.7,258.8) scale(1,1.15)">8</text>
<line x1="241.4" y1="239.75" x2="242.3" y2="239.75" stroke="#000" stroke-width="0.9" stroke-linecap="butt"/>
<line x1="241.4" y1="223.9" x2="243.5" y2="223.9" stroke="#000" stroke-width="1.6" stroke-linecap="butt"/>
<text x="0" y="0" font-size="8.5" font-weight="bold" fill="#000" text-anchor="end" transform="translate(237.7,227.1) scale(1,1.15)">10</text>
<line x1="261.2" y1="381.8" x2="261.2" y2="380" stroke="#000" stroke-width="1.2" stroke-linecap="butt"/>
<line x1="281.83" y1="381.8" x2="281.83" y2="380.7" stroke="#000" stroke-width="1" stroke-linecap="butt"/>
<text x="0" y="0" font-size="9.6" font-weight="bold" fill="#000" text-anchor="end" transform="translate(276,389.4) rotate(-30)">Dark</text>
<line x1="302.47" y1="381.8" x2="302.47" y2="380" stroke="#000" stroke-width="1.2" stroke-linecap="butt"/>
<line x1="323.1" y1="381.8" x2="323.1" y2="380.7" stroke="#000" stroke-width="1" stroke-linecap="butt"/>
<text x="0" y="0" font-size="9.6" font-weight="bold" fill="#000" text-anchor="end" transform="translate(317.27,389.4) rotate(-30)">Light-5 min</text>
<line x1="343.74" y1="381.8" x2="343.74" y2="380" stroke="#000" stroke-width="1.2" stroke-linecap="butt"/>
<line x1="364.38" y1="381.8" x2="364.38" y2="380.7" stroke="#000" stroke-width="1" stroke-linecap="butt"/>
<text x="0" y="0" font-size="9.6" font-weight="bold" fill="#000" text-anchor="end" transform="translate(358.54,389.4) rotate(-30)">Light-10 min</text>
<line x1="385.01" y1="381.8" x2="385.01" y2="380" stroke="#000" stroke-width="1.2" stroke-linecap="butt"/>
<line x1="405.64" y1="381.8" x2="405.64" y2="380.7" stroke="#000" stroke-width="1" stroke-linecap="butt"/>
<text x="0" y="0" font-size="9.6" font-weight="bold" fill="#000" text-anchor="end" transform="translate(399.81,389.4) rotate(-30)">Light-15 min</text>
<line x1="426.28" y1="381.8" x2="426.28" y2="380" stroke="#000" stroke-width="1.2" stroke-linecap="butt"/>
<line x1="446.91" y1="381.8" x2="446.91" y2="380.7" stroke="#000" stroke-width="1" stroke-linecap="butt"/>
<text x="0" y="0" font-size="9.6" font-weight="bold" fill="#000" text-anchor="end" transform="translate(441.08,389.4) rotate(-30)">Light-20 min</text>
<text x="246.2" y="227.3" font-size="19.5" font-weight="bold" fill="#000" text-anchor="start">e</text>
<text x="0" y="0" font-size="9.1" font-weight="bold" fill="#000" text-anchor="middle" transform="translate(230.6,295.9) scale(1,1.1) rotate(-90)">Spins (E^18 counts)</text>
<rect x="378.5" y="211.8" width="23.9" height="10.8" fill="#e2d05e" stroke="#7a7045" stroke-width="0.7"/>
<text x="0" y="0" font-size="10" font-weight="bold" fill="#000" text-anchor="start" transform="translate(405.8,220.9) scale(1,1.1)">CN</text>
<rect x="378.5" y="224.9" width="23.9" height="10.8" fill="#4775a9" stroke="#28435f" stroke-width="0.7"/>
<text x="0" y="0" font-size="10" font-weight="bold" fill="#000" text-anchor="start" transform="translate(405.8,234) scale(1,1.1)">MC</text>
<rect x="378.5" y="238" width="23.9" height="10.8" fill="#a2a1c4" stroke="#5d5c72" stroke-width="0.7"/>
<text x="0" y="0" font-size="10" font-weight="bold" fill="#000" text-anchor="start" transform="translate(405.8,247.1) scale(1,1.1)">CNIr</text>
<rect x="378.5" y="251.1" width="23.9" height="10.8" fill="#d6474b" stroke="#7a2a2c" stroke-width="0.7"/>
<text x="0" y="0" font-size="10" font-weight="bold" fill="#000" text-anchor="start" transform="translate(405.8,260.2) scale(1,1.1)">MCIr</text>
<rect x="516.32" y="330.6" width="7.5" height="49.7" fill="#e2d05e"/>
<rect x="523.82" y="318.66" width="7.5" height="61.64" fill="#4775a9"/>
<rect x="531.32" y="325.04" width="7.5" height="55.26" fill="#a2a1c4"/>
<rect x="538.82" y="317.35" width="7.5" height="62.95" fill="#d6474b"/>
<rect x="559.04" y="314.57" width="7.5" height="65.73" fill="#e2d05e"/>
<rect x="566.54" y="308.36" width="7.5" height="71.94" fill="#4775a9"/>
<rect x="574.04" y="309.18" width="7.5" height="71.12" fill="#a2a1c4"/>
<rect x="581.54" y="295.93" width="7.5" height="84.37" fill="#d6474b"/>
<rect x="601.76" y="299.53" width="7.5" height="80.77" fill="#e2d05e"/>
<rect x="609.26" y="289.56" width="7.5" height="90.74" fill="#4775a9"/>
<rect x="616.76" y="294.14" width="7.5" height="86.16" fill="#a2a1c4"/>
<rect x="624.26" y="276.97" width="7.5" height="103.33" fill="#d6474b"/>
<rect x="644.48" y="284.33" width="7.5" height="95.97" fill="#e2d05e"/>
<rect x="651.98" y="267.16" width="7.5" height="113.14" fill="#4775a9"/>
<rect x="659.48" y="272.88" width="7.5" height="107.42" fill="#a2a1c4"/>
<rect x="666.98" y="239.36" width="7.5" height="140.94" fill="#d6474b"/>
<rect x="467.5" y="208.8" width="213.2" height="171.7" fill="none" stroke="#000" stroke-width="1.85"/>
<line x1="468.3" y1="380.3" x2="470.4" y2="380.3" stroke="#000" stroke-width="1.6" stroke-linecap="butt"/>
<text x="0" y="0" font-size="8.5" font-weight="bold" fill="#000" text-anchor="end" transform="translate(464.2,383.5) scale(1,1.15)">0</text>
<line x1="468.3" y1="363.95" x2="469.2" y2="363.95" stroke="#000" stroke-width="0.9" stroke-linecap="butt"/>
<line x1="468.3" y1="347.6" x2="470.4" y2="347.6" stroke="#000" stroke-width="1.6" stroke-linecap="butt"/>
<text x="0" y="0" font-size="8.5" font-weight="bold" fill="#000" text-anchor="end" transform="translate(464.2,350.8) scale(1,1.15)">2</text>
<line x1="468.3" y1="331.25" x2="469.2" y2="331.25" stroke="#000" stroke-width="0.9" stroke-linecap="butt"/>
<line x1="468.3" y1="314.9" x2="470.4" y2="314.9" stroke="#000" stroke-width="1.6" stroke-linecap="butt"/>
<text x="0" y="0" font-size="8.5" font-weight="bold" fill="#000" text-anchor="end" transform="translate(464.2,318.1) scale(1,1.15)">4</text>
<line x1="468.3" y1="298.55" x2="469.2" y2="298.55" stroke="#000" stroke-width="0.9" stroke-linecap="butt"/>
<line x1="468.3" y1="282.2" x2="470.4" y2="282.2" stroke="#000" stroke-width="1.6" stroke-linecap="butt"/>
<text x="0" y="0" font-size="8.5" font-weight="bold" fill="#000" text-anchor="end" transform="translate(464.2,285.4) scale(1,1.15)">6</text>
<line x1="468.3" y1="265.85" x2="469.2" y2="265.85" stroke="#000" stroke-width="0.9" stroke-linecap="butt"/>
<line x1="468.3" y1="249.5" x2="470.4" y2="249.5" stroke="#000" stroke-width="1.6" stroke-linecap="butt"/>
<text x="0" y="0" font-size="8.5" font-weight="bold" fill="#000" text-anchor="end" transform="translate(464.2,252.7) scale(1,1.15)">8</text>
<line x1="468.3" y1="233.15" x2="469.2" y2="233.15" stroke="#000" stroke-width="0.9" stroke-linecap="butt"/>
<line x1="468.3" y1="216.8" x2="470.4" y2="216.8" stroke="#000" stroke-width="1.6" stroke-linecap="butt"/>
<text x="0" y="0" font-size="8.5" font-weight="bold" fill="#000" text-anchor="end" transform="translate(464.2,220) scale(1,1.15)">10</text>
<line x1="488.6" y1="379.7" x2="488.6" y2="377.9" stroke="#000" stroke-width="1.2" stroke-linecap="butt"/>
<line x1="509.96" y1="379.7" x2="509.96" y2="378.6" stroke="#000" stroke-width="1" stroke-linecap="butt"/>
<text x="0" y="0" font-size="9.6" font-weight="bold" fill="#000" text-anchor="end" transform="translate(492.1,387.3) rotate(-30)">Dark</text>
<line x1="531.32" y1="379.7" x2="531.32" y2="377.9" stroke="#000" stroke-width="1.2" stroke-linecap="butt"/>
<line x1="552.68" y1="379.7" x2="552.68" y2="378.6" stroke="#000" stroke-width="1" stroke-linecap="butt"/>
<text x="0" y="0" font-size="9.6" font-weight="bold" fill="#000" text-anchor="end" transform="translate(534.82,387.3) rotate(-30)">Light-5 min</text>
<line x1="574.04" y1="379.7" x2="574.04" y2="377.9" stroke="#000" stroke-width="1.2" stroke-linecap="butt"/>
<line x1="595.4" y1="379.7" x2="595.4" y2="378.6" stroke="#000" stroke-width="1" stroke-linecap="butt"/>
<text x="0" y="0" font-size="9.6" font-weight="bold" fill="#000" text-anchor="end" transform="translate(577.54,387.3) rotate(-30)">Light-10 min</text>
<line x1="616.76" y1="379.7" x2="616.76" y2="377.9" stroke="#000" stroke-width="1.2" stroke-linecap="butt"/>
<line x1="638.12" y1="379.7" x2="638.12" y2="378.6" stroke="#000" stroke-width="1" stroke-linecap="butt"/>
<text x="0" y="0" font-size="9.6" font-weight="bold" fill="#000" text-anchor="end" transform="translate(620.26,387.3) rotate(-30)">Light-15 min</text>
<line x1="659.48" y1="379.7" x2="659.48" y2="377.9" stroke="#000" stroke-width="1.2" stroke-linecap="butt"/>
<line x1="680.84" y1="379.7" x2="680.84" y2="378.6" stroke="#000" stroke-width="1" stroke-linecap="butt"/>
<text x="0" y="0" font-size="9.6" font-weight="bold" fill="#000" text-anchor="end" transform="translate(662.98,387.3) rotate(-30)">Light-20 min</text>
<text x="473.9" y="228.3" font-size="19.5" font-weight="bold" fill="#000" text-anchor="start">f</text>
<text x="0" y="0" font-size="9.5" font-weight="bold" fill="#000" text-anchor="middle" transform="translate(457.2,294.6) scale(1,1.1) rotate(-90)">Spins (E^18 counts)</text>
<rect x="614.3" y="211.8" width="23.1" height="10.8" fill="#e2d05e"/>
<text x="0" y="0" font-size="10.4" font-weight="bold" fill="#000" text-anchor="start" transform="translate(640.6,220.9) scale(1,1.1)">CN</text>
<rect x="614.3" y="224.55" width="23.1" height="10.8" fill="#4775a9"/>
<text x="0" y="0" font-size="10.4" font-weight="bold" fill="#000" text-anchor="start" transform="translate(640.6,233.65) scale(1,1.1)">MC</text>
<rect x="614.3" y="237.3" width="23.1" height="10.8" fill="#a2a1c4"/>
<text x="0" y="0" font-size="10.4" font-weight="bold" fill="#000" text-anchor="start" transform="translate(640.6,246.4) scale(1,1.1)">CNIr</text>
<rect x="614.3" y="250.05" width="23.1" height="10.8" fill="#d6474b"/>
<text x="0" y="0" font-size="10.4" font-weight="bold" fill="#000" text-anchor="start" transform="translate(640.6,259.15) scale(1,1.1)">MCIr</text>
</svg></body></html>
